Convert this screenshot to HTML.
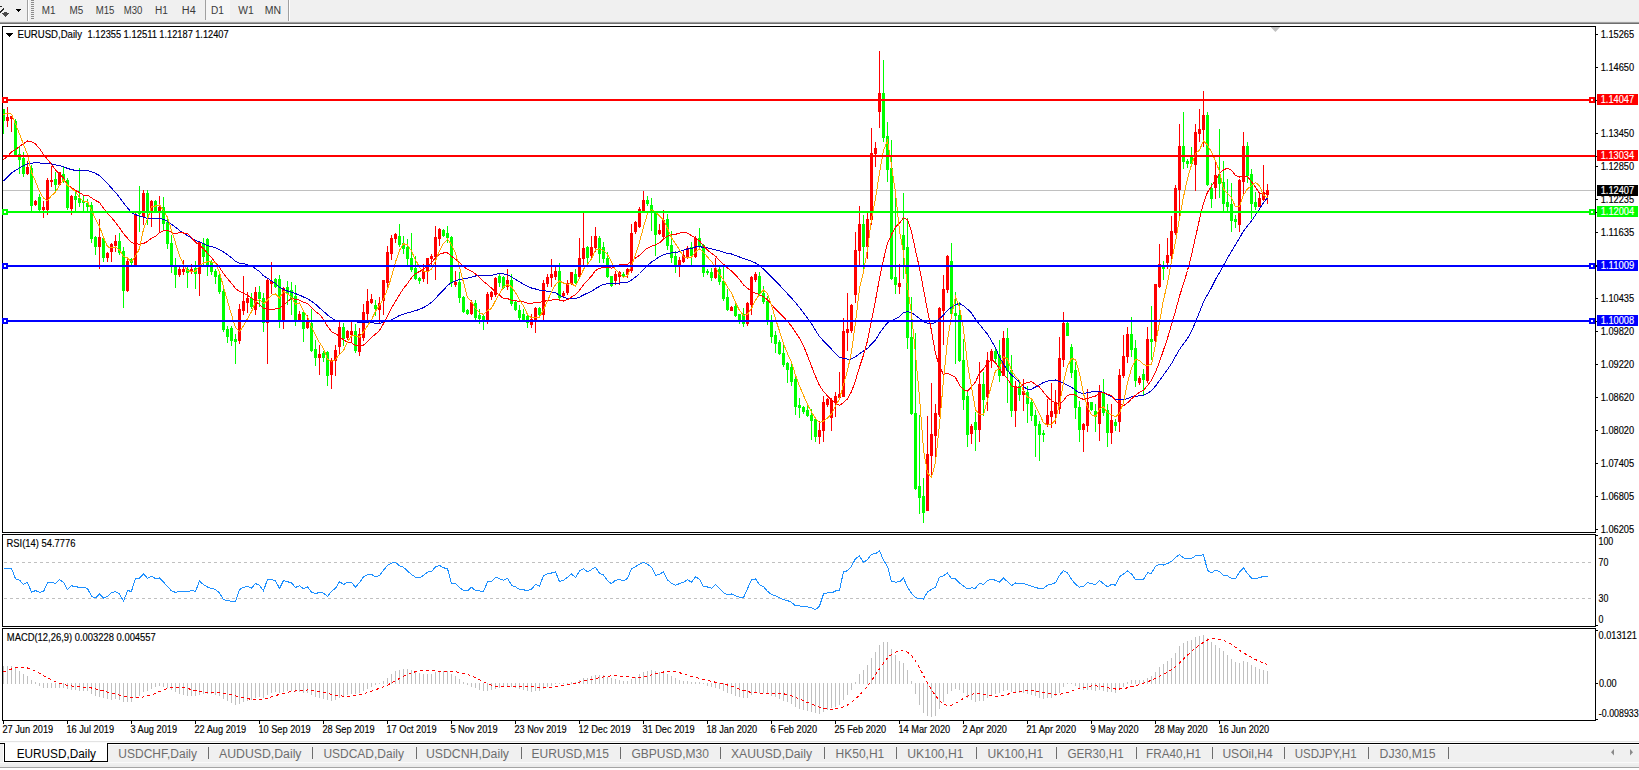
<!DOCTYPE html><html><head><meta charset="utf-8"><style>html,body{margin:0;padding:0;background:#fff}body{width:1639px;height:770px;overflow:hidden}svg{display:block}text{font-family:"Liberation Sans",Arial,sans-serif;stroke:currentColor;stroke-width:0.15px;paint-order:stroke}</style></head><body>
<svg width="1639" height="770" viewBox="0 0 1639 770" shape-rendering="crispEdges">
<rect x="0" y="0" width="1639" height="21" fill="#f0f0f0"/>
<rect x="0" y="21" width="1639" height="1" fill="#e8e8e8"/>
<rect x="0" y="22" width="1639" height="1" fill="#a0a0a0"/>
<rect x="0" y="23" width="1639" height="1" fill="#6e6e6e"/>
<rect x="27" y="0" width="1" height="21" fill="#a0a0a0"/><rect x="28" y="0" width="1" height="21" fill="#ffffff"/>
<rect x="288" y="0" width="1" height="21" fill="#a0a0a0"/><rect x="289" y="0" width="1" height="21" fill="#ffffff"/>
<g fill="#8c8c8c"><rect x="31" y="0" width="3" height="1"/><rect x="31" y="2" width="3" height="1"/><rect x="31" y="4" width="3" height="1"/><rect x="31" y="6" width="3" height="1"/><rect x="31" y="8" width="3" height="1"/><rect x="31" y="10" width="3" height="1"/><rect x="31" y="12" width="3" height="1"/><rect x="31" y="14" width="3" height="1"/><rect x="31" y="16" width="3" height="1"/><rect x="31" y="18" width="3" height="1"/></g>
<path d="M16 9h5v1h-1v1h-1v1h-1v-1h-1v-1h-1z" fill="#000"/>
<path d="M0 6h2v1h-2z M0 11h1v2h-1z M1 10h1v2h-1z M2 9h1v2h-1z M3 8h1v2h-1z" fill="#2a2a2a"/>
<path d="M4 12h3v1h2v1h-1v1h-1v1h-1v1h-1v-1h-1v-1h-1v-1h-1v-1h2z" fill="#4a4a4a"/>
<rect x="205" y="0" width="1" height="20" fill="#a0a0a0"/><rect x="206" y="0" width="24" height="20" fill="#f6f6f6"/>
<text x="41.8" y="14" font-size="10" fill="#3a3a3a" color="#3a3a3a" textLength="13.70" lengthAdjust="spacingAndGlyphs" style="stroke:none">M1</text>
<text x="69.6" y="14" font-size="10" fill="#3a3a3a" color="#3a3a3a" textLength="13.70" lengthAdjust="spacingAndGlyphs" style="stroke:none">M5</text>
<text x="95.7" y="14" font-size="10" fill="#3a3a3a" color="#3a3a3a" textLength="18.70" lengthAdjust="spacingAndGlyphs" style="stroke:none">M15</text>
<text x="123.7" y="14" font-size="10" fill="#3a3a3a" color="#3a3a3a" textLength="18.60" lengthAdjust="spacingAndGlyphs" style="stroke:none">M30</text>
<text x="154.9" y="14" font-size="10" fill="#3a3a3a" color="#3a3a3a" textLength="12.90" lengthAdjust="spacingAndGlyphs" style="stroke:none">H1</text>
<text x="181.8" y="14" font-size="10" fill="#3a3a3a" color="#3a3a3a" textLength="13.90" lengthAdjust="spacingAndGlyphs" style="stroke:none">H4</text>
<text x="211.10000000000002" y="14" font-size="10" fill="#3a3a3a" color="#3a3a3a" textLength="12.90" lengthAdjust="spacingAndGlyphs" style="stroke:none">D1</text>
<text x="238.3" y="14" font-size="10" fill="#3a3a3a" color="#3a3a3a" textLength="15.50" lengthAdjust="spacingAndGlyphs" style="stroke:none">W1</text>
<text x="264.8" y="14" font-size="10" fill="#3a3a3a" color="#3a3a3a" textLength="16.30" lengthAdjust="spacingAndGlyphs" style="stroke:none">MN</text>
<rect x="2.5" y="26.5" width="1593" height="506" fill="#fff" stroke="#000" stroke-width="1"/>
<rect x="2.5" y="534.5" width="1593" height="92" fill="#fff" stroke="#000" stroke-width="1"/>
<rect x="2.5" y="628.5" width="1593" height="92" fill="#fff" stroke="#000" stroke-width="1"/>
<rect x="1596" y="34" width="2" height="1" fill="#000"/>
<text x="1600.7" y="38" font-size="10" fill="#000" color="#000" textLength="33.50" lengthAdjust="spacingAndGlyphs">1.15265</text>
<rect x="1596" y="67" width="2" height="1" fill="#000"/>
<text x="1600.7" y="71" font-size="10" fill="#000" color="#000" textLength="33.50" lengthAdjust="spacingAndGlyphs">1.14650</text>
<rect x="1596" y="100" width="2" height="1" fill="#000"/>
<rect x="1596" y="133" width="2" height="1" fill="#000"/>
<text x="1600.7" y="137" font-size="10" fill="#000" color="#000" textLength="33.50" lengthAdjust="spacingAndGlyphs">1.13450</text>
<rect x="1596" y="166" width="2" height="1" fill="#000"/>
<text x="1600.7" y="170" font-size="10" fill="#000" color="#000" textLength="33.50" lengthAdjust="spacingAndGlyphs">1.12850</text>
<rect x="1596" y="199" width="2" height="1" fill="#000"/>
<text x="1600.7" y="203" font-size="10" fill="#000" color="#000" textLength="33.50" lengthAdjust="spacingAndGlyphs">1.12235</text>
<rect x="1596" y="232" width="2" height="1" fill="#000"/>
<text x="1600.7" y="236" font-size="10" fill="#000" color="#000" textLength="33.50" lengthAdjust="spacingAndGlyphs">1.11635</text>
<rect x="1596" y="265" width="2" height="1" fill="#000"/>
<rect x="1596" y="298" width="2" height="1" fill="#000"/>
<text x="1600.7" y="302" font-size="10" fill="#000" color="#000" textLength="33.50" lengthAdjust="spacingAndGlyphs">1.10435</text>
<rect x="1596" y="331" width="2" height="1" fill="#000"/>
<text x="1600.7" y="335" font-size="10" fill="#000" color="#000" textLength="33.50" lengthAdjust="spacingAndGlyphs">1.09820</text>
<rect x="1596" y="364" width="2" height="1" fill="#000"/>
<text x="1600.7" y="368" font-size="10" fill="#000" color="#000" textLength="33.50" lengthAdjust="spacingAndGlyphs">1.09220</text>
<rect x="1596" y="397" width="2" height="1" fill="#000"/>
<text x="1600.7" y="401" font-size="10" fill="#000" color="#000" textLength="33.50" lengthAdjust="spacingAndGlyphs">1.08620</text>
<rect x="1596" y="430" width="2" height="1" fill="#000"/>
<text x="1600.7" y="434" font-size="10" fill="#000" color="#000" textLength="33.50" lengthAdjust="spacingAndGlyphs">1.08020</text>
<rect x="1596" y="463" width="2" height="1" fill="#000"/>
<text x="1600.7" y="467" font-size="10" fill="#000" color="#000" textLength="33.50" lengthAdjust="spacingAndGlyphs">1.07405</text>
<rect x="1596" y="496" width="2" height="1" fill="#000"/>
<text x="1600.7" y="500" font-size="10" fill="#000" color="#000" textLength="33.50" lengthAdjust="spacingAndGlyphs">1.06805</text>
<rect x="1596" y="529" width="2" height="1" fill="#000"/>
<text x="1600.7" y="533" font-size="10" fill="#000" color="#000" textLength="33.50" lengthAdjust="spacingAndGlyphs">1.06205</text>
<defs><clipPath id="cm"><rect x="3" y="27" width="1592" height="505"/></clipPath><clipPath id="cr"><rect x="3" y="535" width="1592" height="91"/></clipPath><clipPath id="cd"><rect x="3" y="629" width="1592" height="91"/></clipPath></defs>
<g clip-path="url(#cm)">
<rect x="3" y="190" width="1592" height="1" fill="#c0c0c0"/>
<path d="M1270.6 27h9.6l-4.8 5z" fill="#c0c0c0" shape-rendering="auto"/>
<g fill="#00ff00"><rect x="3" y="109" width="1" height="25"/><rect x="2" y="109" width="3" height="12"/><rect x="15" y="119" width="1" height="37"/><rect x="14" y="121" width="3" height="35"/><rect x="19" y="147" width="1" height="27"/><rect x="18" y="154" width="3" height="6"/><rect x="23" y="152" width="1" height="25"/><rect x="22" y="158" width="3" height="16"/><rect x="31" y="165" width="1" height="46"/><rect x="30" y="168" width="3" height="38"/><rect x="39" y="194" width="1" height="17"/><rect x="38" y="197" width="3" height="13"/><rect x="55" y="172" width="1" height="21"/><rect x="54" y="179" width="3" height="6"/><rect x="63" y="166" width="1" height="17"/><rect x="62" y="174" width="3" height="7"/><rect x="67" y="178" width="1" height="32"/><rect x="66" y="180" width="3" height="28"/><rect x="75" y="190" width="1" height="22"/><rect x="74" y="196" width="3" height="4"/><rect x="79" y="168" width="1" height="39"/><rect x="78" y="198" width="3" height="5"/><rect x="83" y="196" width="1" height="16"/><rect x="82" y="201" width="3" height="2"/><rect x="87" y="199" width="1" height="12"/><rect x="86" y="203" width="3" height="4"/><rect x="91" y="202" width="1" height="41"/><rect x="90" y="205" width="3" height="34"/><rect x="95" y="236" width="1" height="19"/><rect x="94" y="237" width="3" height="10"/><rect x="103" y="238" width="1" height="24"/><rect x="102" y="238" width="3" height="20"/><rect x="119" y="233" width="1" height="22"/><rect x="118" y="241" width="3" height="12"/><rect x="123" y="247" width="1" height="61"/><rect x="122" y="251" width="3" height="40"/><rect x="131" y="258" width="1" height="9"/><rect x="130" y="259" width="3" height="4"/><rect x="139" y="186" width="1" height="46"/><rect x="138" y="211" width="3" height="3"/><rect x="147" y="190" width="1" height="35"/><rect x="146" y="193" width="3" height="18"/><rect x="155" y="200" width="1" height="12"/><rect x="154" y="201" width="3" height="10"/><rect x="163" y="197" width="1" height="34"/><rect x="162" y="207" width="3" height="17"/><rect x="167" y="218" width="1" height="31"/><rect x="166" y="222" width="3" height="22"/><rect x="171" y="235" width="1" height="38"/><rect x="170" y="243" width="3" height="24"/><rect x="175" y="258" width="1" height="30"/><rect x="174" y="267" width="3" height="8"/><rect x="187" y="266" width="1" height="22"/><rect x="186" y="269" width="3" height="4"/><rect x="195" y="261" width="1" height="28"/><rect x="194" y="268" width="3" height="6"/><rect x="203" y="238" width="1" height="29"/><rect x="202" y="243" width="3" height="14"/><rect x="207" y="238" width="1" height="38"/><rect x="206" y="239" width="3" height="28"/><rect x="211" y="260" width="1" height="15"/><rect x="210" y="262" width="3" height="10"/><rect x="215" y="269" width="1" height="15"/><rect x="214" y="271" width="3" height="6"/><rect x="219" y="273" width="1" height="21"/><rect x="218" y="275" width="3" height="17"/><rect x="223" y="289" width="1" height="43"/><rect x="222" y="291" width="3" height="39"/><rect x="227" y="326" width="1" height="17"/><rect x="226" y="329" width="3" height="8"/><rect x="231" y="326" width="1" height="20"/><rect x="230" y="328" width="3" height="13"/><rect x="235" y="334" width="1" height="30"/><rect x="234" y="339" width="3" height="3"/><rect x="251" y="293" width="1" height="16"/><rect x="250" y="298" width="3" height="9"/><rect x="259" y="286" width="1" height="21"/><rect x="258" y="292" width="3" height="7"/><rect x="263" y="293" width="1" height="39"/><rect x="262" y="298" width="3" height="25"/><rect x="275" y="278" width="1" height="10"/><rect x="274" y="279" width="3" height="8"/><rect x="279" y="275" width="1" height="53"/><rect x="278" y="279" width="3" height="42"/><rect x="287" y="281" width="1" height="24"/><rect x="286" y="287" width="3" height="7"/><rect x="291" y="282" width="1" height="33"/><rect x="290" y="290" width="3" height="9"/><rect x="295" y="285" width="1" height="41"/><rect x="294" y="296" width="3" height="25"/><rect x="303" y="310" width="1" height="32"/><rect x="302" y="312" width="3" height="17"/><rect x="311" y="309" width="1" height="43"/><rect x="310" y="323" width="3" height="28"/><rect x="315" y="340" width="1" height="26"/><rect x="314" y="349" width="3" height="9"/><rect x="323" y="351" width="1" height="11"/><rect x="322" y="353" width="3" height="5"/><rect x="327" y="351" width="1" height="35"/><rect x="326" y="352" width="3" height="24"/><rect x="343" y="323" width="1" height="23"/><rect x="342" y="327" width="3" height="12"/><rect x="355" y="324" width="1" height="29"/><rect x="354" y="331" width="3" height="20"/><rect x="375" y="300" width="1" height="16"/><rect x="374" y="305" width="3" height="4"/><rect x="399" y="224" width="1" height="23"/><rect x="398" y="236" width="3" height="9"/><rect x="403" y="236" width="1" height="18"/><rect x="402" y="243" width="3" height="6"/><rect x="407" y="239" width="1" height="26"/><rect x="406" y="247" width="3" height="12"/><rect x="411" y="233" width="1" height="39"/><rect x="410" y="258" width="3" height="12"/><rect x="415" y="256" width="1" height="24"/><rect x="414" y="268" width="3" height="11"/><rect x="419" y="277" width="1" height="7"/><rect x="418" y="278" width="3" height="3"/><rect x="443" y="229" width="1" height="8"/><rect x="442" y="230" width="3" height="6"/><rect x="447" y="226" width="1" height="17"/><rect x="446" y="233" width="3" height="5"/><rect x="451" y="236" width="1" height="51"/><rect x="450" y="237" width="3" height="46"/><rect x="459" y="272" width="1" height="31"/><rect x="458" y="282" width="3" height="16"/><rect x="463" y="296" width="1" height="17"/><rect x="462" y="297" width="3" height="15"/><rect x="467" y="309" width="1" height="6"/><rect x="466" y="310" width="3" height="4"/><rect x="475" y="300" width="1" height="20"/><rect x="474" y="303" width="3" height="15"/><rect x="479" y="309" width="1" height="15"/><rect x="478" y="315" width="3" height="4"/><rect x="483" y="315" width="1" height="15"/><rect x="482" y="316" width="3" height="5"/><rect x="499" y="274" width="1" height="13"/><rect x="498" y="276" width="3" height="7"/><rect x="503" y="276" width="1" height="13"/><rect x="502" y="277" width="3" height="11"/><rect x="511" y="274" width="1" height="32"/><rect x="510" y="280" width="3" height="24"/><rect x="515" y="300" width="1" height="11"/><rect x="514" y="302" width="3" height="8"/><rect x="519" y="305" width="1" height="15"/><rect x="518" y="310" width="3" height="8"/><rect x="523" y="309" width="1" height="12"/><rect x="522" y="314" width="3" height="6"/><rect x="527" y="314" width="1" height="14"/><rect x="526" y="316" width="3" height="7"/><rect x="539" y="307" width="1" height="9"/><rect x="538" y="308" width="3" height="7"/><rect x="559" y="263" width="1" height="38"/><rect x="558" y="271" width="3" height="27"/><rect x="575" y="269" width="1" height="15"/><rect x="574" y="274" width="3" height="9"/><rect x="587" y="246" width="1" height="18"/><rect x="586" y="247" width="3" height="11"/><rect x="599" y="236" width="1" height="27"/><rect x="598" y="238" width="3" height="16"/><rect x="603" y="242" width="1" height="21"/><rect x="602" y="247" width="3" height="12"/><rect x="607" y="252" width="1" height="26"/><rect x="606" y="258" width="3" height="19"/><rect x="611" y="276" width="1" height="11"/><rect x="610" y="276" width="3" height="10"/><rect x="623" y="272" width="1" height="6"/><rect x="622" y="274" width="3" height="3"/><rect x="647" y="196" width="1" height="10"/><rect x="646" y="200" width="3" height="4"/><rect x="651" y="198" width="1" height="33"/><rect x="650" y="205" width="3" height="7"/><rect x="655" y="211" width="1" height="45"/><rect x="654" y="213" width="3" height="22"/><rect x="667" y="214" width="1" height="36"/><rect x="666" y="219" width="3" height="27"/><rect x="671" y="231" width="1" height="32"/><rect x="670" y="245" width="3" height="13"/><rect x="675" y="251" width="1" height="22"/><rect x="674" y="256" width="3" height="10"/><rect x="691" y="242" width="1" height="24"/><rect x="690" y="247" width="3" height="9"/><rect x="699" y="228" width="1" height="20"/><rect x="698" y="238" width="3" height="8"/><rect x="703" y="244" width="1" height="33"/><rect x="702" y="245" width="3" height="28"/><rect x="707" y="269" width="1" height="6"/><rect x="706" y="271" width="3" height="2"/><rect x="711" y="268" width="1" height="13"/><rect x="710" y="272" width="3" height="6"/><rect x="719" y="266" width="1" height="19"/><rect x="718" y="269" width="3" height="13"/><rect x="723" y="264" width="1" height="37"/><rect x="722" y="281" width="3" height="18"/><rect x="727" y="289" width="1" height="22"/><rect x="726" y="297" width="3" height="13"/><rect x="735" y="303" width="1" height="14"/><rect x="734" y="306" width="3" height="10"/><rect x="739" y="314" width="1" height="10"/><rect x="738" y="314" width="3" height="8"/><rect x="743" y="308" width="1" height="19"/><rect x="742" y="314" width="3" height="10"/><rect x="759" y="272" width="1" height="24"/><rect x="758" y="276" width="3" height="18"/><rect x="763" y="286" width="1" height="18"/><rect x="762" y="293" width="3" height="9"/><rect x="767" y="296" width="1" height="29"/><rect x="766" y="301" width="3" height="20"/><rect x="771" y="315" width="1" height="28"/><rect x="770" y="321" width="3" height="16"/><rect x="775" y="331" width="1" height="22"/><rect x="774" y="335" width="3" height="9"/><rect x="779" y="340" width="1" height="15"/><rect x="778" y="342" width="3" height="12"/><rect x="783" y="345" width="1" height="22"/><rect x="782" y="353" width="3" height="12"/><rect x="787" y="362" width="1" height="21"/><rect x="786" y="363" width="3" height="7"/><rect x="791" y="362" width="1" height="24"/><rect x="790" y="367" width="3" height="15"/><rect x="795" y="377" width="1" height="38"/><rect x="794" y="379" width="3" height="28"/><rect x="799" y="398" width="1" height="20"/><rect x="798" y="405" width="3" height="3"/><rect x="803" y="406" width="1" height="8"/><rect x="802" y="407" width="3" height="5"/><rect x="807" y="405" width="1" height="12"/><rect x="806" y="410" width="3" height="6"/><rect x="811" y="409" width="1" height="31"/><rect x="810" y="415" width="3" height="6"/><rect x="815" y="418" width="1" height="24"/><rect x="814" y="419" width="3" height="18"/><rect x="863" y="215" width="1" height="55"/><rect x="862" y="224" width="3" height="23"/><rect x="883" y="60" width="1" height="82"/><rect x="882" y="93" width="3" height="45"/><rect x="887" y="122" width="1" height="60"/><rect x="886" y="136" width="3" height="34"/><rect x="891" y="140" width="1" height="140"/><rect x="890" y="168" width="3" height="111"/><rect x="895" y="198" width="1" height="96"/><rect x="894" y="277" width="3" height="8"/><rect x="903" y="193" width="1" height="86"/><rect x="902" y="235" width="3" height="15"/><rect x="907" y="218" width="1" height="131"/><rect x="906" y="247" width="3" height="91"/><rect x="911" y="297" width="1" height="118"/><rect x="910" y="337" width="3" height="77"/><rect x="915" y="333" width="1" height="157"/><rect x="914" y="413" width="3" height="76"/><rect x="919" y="415" width="1" height="99"/><rect x="918" y="486" width="3" height="12"/><rect x="923" y="478" width="1" height="45"/><rect x="922" y="496" width="3" height="17"/><rect x="951" y="243" width="1" height="72"/><rect x="950" y="261" width="3" height="53"/><rect x="955" y="292" width="1" height="72"/><rect x="954" y="313" width="3" height="3"/><rect x="959" y="302" width="1" height="60"/><rect x="958" y="315" width="3" height="46"/><rect x="963" y="339" width="1" height="71"/><rect x="962" y="360" width="3" height="40"/><rect x="967" y="392" width="1" height="55"/><rect x="966" y="396" width="3" height="39"/><rect x="975" y="412" width="1" height="39"/><rect x="974" y="422" width="3" height="8"/><rect x="983" y="372" width="1" height="44"/><rect x="982" y="384" width="3" height="16"/><rect x="995" y="347" width="1" height="15"/><rect x="994" y="351" width="3" height="8"/><rect x="999" y="340" width="1" height="42"/><rect x="998" y="355" width="3" height="21"/><rect x="1007" y="328" width="1" height="75"/><rect x="1006" y="338" width="3" height="33"/><rect x="1011" y="355" width="1" height="62"/><rect x="1010" y="370" width="3" height="41"/><rect x="1019" y="380" width="1" height="21"/><rect x="1018" y="386" width="3" height="9"/><rect x="1027" y="386" width="1" height="37"/><rect x="1026" y="392" width="3" height="12"/><rect x="1031" y="398" width="1" height="23"/><rect x="1030" y="402" width="3" height="14"/><rect x="1035" y="410" width="1" height="47"/><rect x="1034" y="415" width="3" height="11"/><rect x="1039" y="421" width="1" height="40"/><rect x="1038" y="424" width="3" height="11"/><rect x="1043" y="430" width="1" height="12"/><rect x="1042" y="433" width="3" height="2"/><rect x="1067" y="322" width="1" height="14"/><rect x="1066" y="323" width="3" height="13"/><rect x="1071" y="344" width="1" height="34"/><rect x="1070" y="347" width="3" height="26"/><rect x="1075" y="362" width="1" height="57"/><rect x="1074" y="370" width="3" height="38"/><rect x="1079" y="401" width="1" height="41"/><rect x="1078" y="407" width="3" height="23"/><rect x="1091" y="402" width="1" height="9"/><rect x="1090" y="402" width="3" height="8"/><rect x="1095" y="404" width="1" height="28"/><rect x="1094" y="411" width="3" height="6"/><rect x="1103" y="379" width="1" height="37"/><rect x="1102" y="392" width="3" height="21"/><rect x="1107" y="404" width="1" height="43"/><rect x="1106" y="410" width="3" height="23"/><rect x="1115" y="419" width="1" height="12"/><rect x="1114" y="422" width="3" height="4"/><rect x="1131" y="317" width="1" height="40"/><rect x="1130" y="334" width="3" height="16"/><rect x="1135" y="340" width="1" height="47"/><rect x="1134" y="348" width="3" height="33"/><rect x="1143" y="369" width="1" height="26"/><rect x="1142" y="374" width="3" height="6"/><rect x="1151" y="306" width="1" height="54"/><rect x="1150" y="339" width="3" height="3"/><rect x="1163" y="261" width="1" height="19"/><rect x="1162" y="266" width="3" height="3"/><rect x="1183" y="112" width="1" height="57"/><rect x="1182" y="146" width="3" height="16"/><rect x="1187" y="159" width="1" height="9"/><rect x="1186" y="161" width="3" height="3"/><rect x="1191" y="147" width="1" height="18"/><rect x="1190" y="157" width="3" height="7"/><rect x="1207" y="112" width="1" height="74"/><rect x="1206" y="115" width="3" height="70"/><rect x="1211" y="183" width="1" height="25"/><rect x="1210" y="188" width="3" height="11"/><rect x="1219" y="129" width="1" height="69"/><rect x="1218" y="174" width="3" height="10"/><rect x="1223" y="161" width="1" height="50"/><rect x="1222" y="182" width="3" height="22"/><rect x="1227" y="179" width="1" height="32"/><rect x="1226" y="202" width="3" height="5"/><rect x="1231" y="183" width="1" height="49"/><rect x="1230" y="204" width="3" height="17"/><rect x="1235" y="215" width="1" height="13"/><rect x="1234" y="219" width="3" height="3"/><rect x="1247" y="142" width="1" height="41"/><rect x="1246" y="146" width="3" height="30"/><rect x="1251" y="169" width="1" height="50"/><rect x="1250" y="174" width="3" height="30"/><rect x="1255" y="192" width="1" height="18"/><rect x="1254" y="202" width="3" height="5"/></g>
<g fill="#ff0000"><rect x="7" y="107" width="1" height="20"/><rect x="6" y="117" width="3" height="4"/><rect x="11" y="116" width="1" height="16"/><rect x="10" y="116" width="3" height="3"/><rect x="27" y="161" width="1" height="14"/><rect x="26" y="167" width="3" height="7"/><rect x="35" y="200" width="1" height="6"/><rect x="34" y="201" width="3" height="4"/><rect x="43" y="201" width="1" height="17"/><rect x="42" y="207" width="3" height="3"/><rect x="47" y="178" width="1" height="37"/><rect x="46" y="180" width="3" height="30"/><rect x="51" y="166" width="1" height="21"/><rect x="50" y="180" width="3" height="2"/><rect x="59" y="172" width="1" height="14"/><rect x="58" y="172" width="3" height="13"/><rect x="71" y="195" width="1" height="20"/><rect x="70" y="196" width="3" height="13"/><rect x="99" y="219" width="1" height="50"/><rect x="98" y="237" width="3" height="10"/><rect x="107" y="252" width="1" height="10"/><rect x="106" y="253" width="3" height="5"/><rect x="111" y="243" width="1" height="19"/><rect x="110" y="244" width="3" height="8"/><rect x="115" y="235" width="1" height="17"/><rect x="114" y="241" width="3" height="5"/><rect x="127" y="259" width="1" height="33"/><rect x="126" y="261" width="3" height="30"/><rect x="135" y="213" width="1" height="54"/><rect x="134" y="214" width="3" height="53"/><rect x="143" y="190" width="1" height="35"/><rect x="142" y="193" width="3" height="24"/><rect x="151" y="200" width="1" height="27"/><rect x="150" y="201" width="3" height="11"/><rect x="159" y="196" width="1" height="37"/><rect x="158" y="207" width="3" height="5"/><rect x="179" y="266" width="1" height="11"/><rect x="178" y="269" width="3" height="6"/><rect x="183" y="260" width="1" height="15"/><rect x="182" y="269" width="3" height="3"/><rect x="191" y="264" width="1" height="10"/><rect x="190" y="269" width="3" height="3"/><rect x="199" y="241" width="1" height="55"/><rect x="198" y="242" width="3" height="32"/><rect x="239" y="304" width="1" height="40"/><rect x="238" y="309" width="3" height="32"/><rect x="243" y="276" width="1" height="39"/><rect x="242" y="301" width="3" height="10"/><rect x="247" y="292" width="1" height="21"/><rect x="246" y="298" width="3" height="5"/><rect x="255" y="287" width="1" height="28"/><rect x="254" y="292" width="3" height="18"/><rect x="267" y="279" width="1" height="85"/><rect x="266" y="280" width="3" height="43"/><rect x="271" y="262" width="1" height="32"/><rect x="270" y="281" width="3" height="3"/><rect x="283" y="287" width="1" height="42"/><rect x="282" y="288" width="3" height="33"/><rect x="299" y="311" width="1" height="11"/><rect x="298" y="314" width="3" height="7"/><rect x="307" y="315" width="1" height="14"/><rect x="306" y="322" width="3" height="6"/><rect x="319" y="345" width="1" height="30"/><rect x="318" y="354" width="3" height="4"/><rect x="331" y="358" width="1" height="31"/><rect x="330" y="360" width="3" height="15"/><rect x="335" y="345" width="1" height="31"/><rect x="334" y="350" width="3" height="11"/><rect x="339" y="322" width="1" height="32"/><rect x="338" y="327" width="3" height="20"/><rect x="347" y="330" width="1" height="10"/><rect x="346" y="331" width="3" height="7"/><rect x="351" y="322" width="1" height="20"/><rect x="350" y="331" width="3" height="4"/><rect x="359" y="328" width="1" height="28"/><rect x="358" y="334" width="3" height="18"/><rect x="363" y="304" width="1" height="37"/><rect x="362" y="312" width="3" height="26"/><rect x="367" y="289" width="1" height="31"/><rect x="366" y="301" width="3" height="13"/><rect x="371" y="294" width="1" height="10"/><rect x="370" y="299" width="3" height="4"/><rect x="379" y="297" width="1" height="27"/><rect x="378" y="303" width="3" height="7"/><rect x="383" y="280" width="1" height="35"/><rect x="382" y="280" width="3" height="21"/><rect x="387" y="246" width="1" height="42"/><rect x="386" y="252" width="3" height="31"/><rect x="391" y="235" width="1" height="25"/><rect x="390" y="238" width="3" height="16"/><rect x="395" y="233" width="1" height="10"/><rect x="394" y="234" width="3" height="5"/><rect x="423" y="264" width="1" height="18"/><rect x="422" y="271" width="3" height="8"/><rect x="427" y="258" width="1" height="26"/><rect x="426" y="258" width="3" height="13"/><rect x="431" y="254" width="1" height="11"/><rect x="430" y="256" width="3" height="3"/><rect x="435" y="226" width="1" height="54"/><rect x="434" y="237" width="3" height="20"/><rect x="439" y="228" width="1" height="18"/><rect x="438" y="229" width="3" height="10"/><rect x="455" y="271" width="1" height="16"/><rect x="454" y="282" width="3" height="3"/><rect x="471" y="300" width="1" height="15"/><rect x="470" y="302" width="3" height="12"/><rect x="487" y="292" width="1" height="32"/><rect x="486" y="294" width="3" height="28"/><rect x="491" y="291" width="1" height="9"/><rect x="490" y="292" width="3" height="5"/><rect x="495" y="277" width="1" height="20"/><rect x="494" y="278" width="3" height="17"/><rect x="507" y="269" width="1" height="21"/><rect x="506" y="280" width="3" height="7"/><rect x="531" y="314" width="1" height="14"/><rect x="530" y="319" width="3" height="6"/><rect x="535" y="307" width="1" height="26"/><rect x="534" y="308" width="3" height="13"/><rect x="543" y="280" width="1" height="40"/><rect x="542" y="283" width="3" height="32"/><rect x="547" y="274" width="1" height="13"/><rect x="546" y="277" width="3" height="7"/><rect x="551" y="259" width="1" height="28"/><rect x="550" y="274" width="3" height="4"/><rect x="555" y="266" width="1" height="14"/><rect x="554" y="271" width="3" height="6"/><rect x="563" y="291" width="1" height="7"/><rect x="562" y="293" width="3" height="3"/><rect x="567" y="280" width="1" height="15"/><rect x="566" y="283" width="3" height="10"/><rect x="571" y="272" width="1" height="13"/><rect x="570" y="272" width="3" height="12"/><rect x="579" y="238" width="1" height="40"/><rect x="578" y="258" width="3" height="19"/><rect x="583" y="213" width="1" height="52"/><rect x="582" y="248" width="3" height="11"/><rect x="591" y="236" width="1" height="23"/><rect x="590" y="247" width="3" height="9"/><rect x="595" y="227" width="1" height="25"/><rect x="594" y="236" width="3" height="12"/><rect x="615" y="271" width="1" height="14"/><rect x="614" y="274" width="3" height="7"/><rect x="619" y="271" width="1" height="14"/><rect x="618" y="272" width="3" height="5"/><rect x="627" y="268" width="1" height="10"/><rect x="626" y="269" width="3" height="6"/><rect x="631" y="224" width="1" height="49"/><rect x="630" y="233" width="3" height="38"/><rect x="635" y="221" width="1" height="13"/><rect x="634" y="222" width="3" height="10"/><rect x="639" y="207" width="1" height="21"/><rect x="638" y="209" width="3" height="18"/><rect x="643" y="191" width="1" height="22"/><rect x="642" y="200" width="3" height="11"/><rect x="659" y="224" width="1" height="11"/><rect x="658" y="230" width="3" height="4"/><rect x="663" y="210" width="1" height="29"/><rect x="662" y="220" width="3" height="17"/><rect x="679" y="257" width="1" height="20"/><rect x="678" y="260" width="3" height="7"/><rect x="683" y="251" width="1" height="12"/><rect x="682" y="255" width="3" height="7"/><rect x="687" y="246" width="1" height="13"/><rect x="686" y="248" width="3" height="10"/><rect x="695" y="236" width="1" height="22"/><rect x="694" y="238" width="3" height="19"/><rect x="715" y="258" width="1" height="21"/><rect x="714" y="268" width="3" height="10"/><rect x="731" y="306" width="1" height="5"/><rect x="730" y="307" width="3" height="4"/><rect x="747" y="302" width="1" height="24"/><rect x="746" y="303" width="3" height="21"/><rect x="751" y="276" width="1" height="39"/><rect x="750" y="277" width="3" height="28"/><rect x="755" y="272" width="1" height="10"/><rect x="754" y="274" width="3" height="6"/><rect x="819" y="421" width="1" height="23"/><rect x="818" y="430" width="3" height="7"/><rect x="823" y="396" width="1" height="46"/><rect x="822" y="402" width="3" height="29"/><rect x="827" y="398" width="1" height="9"/><rect x="826" y="399" width="3" height="6"/><rect x="831" y="398" width="1" height="33"/><rect x="830" y="400" width="3" height="18"/><rect x="835" y="392" width="1" height="25"/><rect x="834" y="396" width="3" height="7"/><rect x="839" y="372" width="1" height="27"/><rect x="838" y="394" width="3" height="4"/><rect x="843" y="318" width="1" height="79"/><rect x="842" y="331" width="3" height="66"/><rect x="847" y="293" width="1" height="58"/><rect x="846" y="329" width="3" height="4"/><rect x="851" y="304" width="1" height="29"/><rect x="850" y="305" width="3" height="26"/><rect x="855" y="232" width="1" height="71"/><rect x="854" y="250" width="3" height="45"/><rect x="859" y="206" width="1" height="61"/><rect x="858" y="224" width="3" height="27"/><rect x="867" y="213" width="1" height="46"/><rect x="866" y="219" width="3" height="28"/><rect x="871" y="128" width="1" height="97"/><rect x="870" y="153" width="3" height="67"/><rect x="875" y="142" width="1" height="25"/><rect x="874" y="148" width="3" height="6"/><rect x="879" y="51" width="1" height="77"/><rect x="878" y="93" width="3" height="19"/><rect x="899" y="264" width="1" height="30"/><rect x="898" y="283" width="3" height="4"/><rect x="927" y="416" width="1" height="95"/><rect x="926" y="454" width="3" height="57"/><rect x="931" y="383" width="1" height="93"/><rect x="930" y="434" width="3" height="22"/><rect x="935" y="404" width="1" height="54"/><rect x="934" y="413" width="3" height="23"/><rect x="939" y="307" width="1" height="110"/><rect x="938" y="308" width="3" height="107"/><rect x="943" y="275" width="1" height="70"/><rect x="942" y="289" width="3" height="22"/><rect x="947" y="255" width="1" height="38"/><rect x="946" y="256" width="3" height="34"/><rect x="971" y="424" width="1" height="20"/><rect x="970" y="426" width="3" height="8"/><rect x="979" y="362" width="1" height="80"/><rect x="978" y="384" width="3" height="46"/><rect x="987" y="352" width="1" height="59"/><rect x="986" y="360" width="3" height="37"/><rect x="991" y="349" width="1" height="19"/><rect x="990" y="351" width="3" height="10"/><rect x="1003" y="331" width="1" height="45"/><rect x="1002" y="338" width="3" height="38"/><rect x="1015" y="381" width="1" height="46"/><rect x="1014" y="386" width="3" height="25"/><rect x="1023" y="379" width="1" height="32"/><rect x="1022" y="391" width="3" height="4"/><rect x="1047" y="399" width="1" height="28"/><rect x="1046" y="415" width="3" height="9"/><rect x="1051" y="383" width="1" height="45"/><rect x="1050" y="411" width="3" height="6"/><rect x="1055" y="390" width="1" height="34"/><rect x="1054" y="402" width="3" height="12"/><rect x="1059" y="337" width="1" height="77"/><rect x="1058" y="358" width="3" height="51"/><rect x="1063" y="312" width="1" height="55"/><rect x="1062" y="323" width="3" height="37"/><rect x="1083" y="423" width="1" height="29"/><rect x="1082" y="424" width="3" height="6"/><rect x="1087" y="389" width="1" height="43"/><rect x="1086" y="402" width="3" height="24"/><rect x="1099" y="385" width="1" height="56"/><rect x="1098" y="392" width="3" height="32"/><rect x="1111" y="404" width="1" height="40"/><rect x="1110" y="420" width="3" height="13"/><rect x="1119" y="369" width="1" height="63"/><rect x="1118" y="375" width="3" height="47"/><rect x="1123" y="335" width="1" height="43"/><rect x="1122" y="356" width="3" height="20"/><rect x="1127" y="327" width="1" height="36"/><rect x="1126" y="334" width="3" height="23"/><rect x="1139" y="376" width="1" height="9"/><rect x="1138" y="378" width="3" height="5"/><rect x="1147" y="327" width="1" height="56"/><rect x="1146" y="339" width="3" height="42"/><rect x="1155" y="284" width="1" height="58"/><rect x="1154" y="284" width="3" height="57"/><rect x="1159" y="244" width="1" height="44"/><rect x="1158" y="264" width="3" height="23"/><rect x="1167" y="238" width="1" height="31"/><rect x="1166" y="255" width="3" height="8"/><rect x="1171" y="216" width="1" height="43"/><rect x="1170" y="231" width="3" height="25"/><rect x="1175" y="185" width="1" height="50"/><rect x="1174" y="188" width="3" height="45"/><rect x="1179" y="124" width="1" height="93"/><rect x="1178" y="146" width="3" height="44"/><rect x="1195" y="124" width="1" height="67"/><rect x="1194" y="132" width="3" height="33"/><rect x="1199" y="109" width="1" height="33"/><rect x="1198" y="129" width="3" height="5"/><rect x="1203" y="91" width="1" height="56"/><rect x="1202" y="115" width="3" height="15"/><rect x="1215" y="160" width="1" height="39"/><rect x="1214" y="175" width="3" height="13"/><rect x="1239" y="179" width="1" height="53"/><rect x="1238" y="180" width="3" height="45"/><rect x="1243" y="132" width="1" height="62"/><rect x="1242" y="146" width="3" height="36"/><rect x="1259" y="192" width="1" height="15"/><rect x="1258" y="198" width="3" height="9"/><rect x="1263" y="165" width="1" height="36"/><rect x="1262" y="192" width="3" height="8"/><rect x="1267" y="184" width="1" height="20"/><rect x="1266" y="190" width="3" height="5"/></g>
<polyline points="3.5,181.0 7.5,177.0 11.5,173.1 15.5,170.4 19.5,167.9 23.5,165.9 27.5,163.8 31.5,163.2 35.5,162.7 39.5,162.9 43.5,163.5 47.5,163.5 51.5,164.0 55.5,164.9 59.5,165.7 63.5,166.7 67.5,168.4 71.5,169.6 75.5,170.4 79.5,170.7 83.5,170.7 87.5,170.6 91.5,171.6 95.5,173.4 99.5,175.6 103.5,179.3 107.5,183.6 111.5,188.1 115.5,192.5 119.5,197.3 123.5,203.0 127.5,207.8 131.5,212.7 135.5,214.6 139.5,216.4 143.5,217.1 147.5,218.5 151.5,218.4 155.5,218.7 159.5,218.7 163.5,219.2 167.5,221.3 171.5,224.2 175.5,227.2 179.5,230.4 183.5,233.4 187.5,235.5 191.5,238.0 195.5,240.5 199.5,241.8 203.5,243.6 207.5,245.6 211.5,246.7 215.5,247.7 219.5,249.5 223.5,251.9 227.5,254.6 231.5,257.8 235.5,261.2 239.5,263.1 243.5,263.4 247.5,264.7 251.5,266.2 255.5,268.7 259.5,271.6 263.5,275.9 267.5,278.2 271.5,280.9 275.5,283.4 279.5,287.2 283.5,289.3 287.5,291.0 291.5,292.1 295.5,293.6 299.5,295.1 303.5,297.0 307.5,298.7 311.5,301.4 315.5,304.2 319.5,307.9 323.5,311.3 327.5,314.9 331.5,317.9 335.5,320.3 339.5,321.5 343.5,321.9 347.5,321.7 351.5,321.4 355.5,321.7 359.5,322.5 363.5,322.8 367.5,322.9 371.5,322.7 375.5,323.2 379.5,323.4 383.5,322.0 387.5,321.1 391.5,319.7 395.5,317.9 399.5,315.4 403.5,314.1 407.5,312.9 411.5,312.0 415.5,310.6 419.5,309.4 423.5,307.5 427.5,305.4 431.5,302.3 435.5,298.3 439.5,294.1 443.5,290.1 447.5,285.4 451.5,282.8 455.5,280.6 459.5,279.6 463.5,278.7 467.5,278.1 471.5,277.1 475.5,276.0 479.5,275.5 483.5,275.8 487.5,275.5 491.5,275.3 495.5,274.3 499.5,273.6 503.5,273.8 507.5,274.7 511.5,276.9 515.5,279.4 519.5,281.8 523.5,284.2 527.5,286.3 531.5,288.0 535.5,289.0 539.5,290.1 543.5,290.6 547.5,291.2 551.5,291.8 555.5,292.9 559.5,295.2 563.5,297.1 567.5,298.7 571.5,298.4 575.5,298.4 579.5,297.1 583.5,295.0 587.5,293.1 591.5,291.3 595.5,288.6 599.5,286.4 603.5,284.4 607.5,283.8 611.5,283.5 615.5,283.4 619.5,283.1 623.5,282.7 627.5,282.4 631.5,280.0 635.5,277.1 639.5,273.5 643.5,269.5 647.5,265.6 651.5,262.0 655.5,259.5 659.5,256.7 663.5,254.6 667.5,253.5 671.5,252.9 675.5,252.7 679.5,251.5 683.5,250.2 687.5,249.0 691.5,248.5 695.5,247.0 699.5,246.6 703.5,247.4 707.5,247.9 711.5,248.9 715.5,249.9 719.5,250.9 723.5,252.2 727.5,253.3 731.5,254.0 735.5,255.4 739.5,257.0 743.5,258.6 747.5,259.7 751.5,261.2 755.5,262.9 759.5,265.7 763.5,269.1 767.5,273.0 771.5,277.1 775.5,280.8 779.5,284.9 783.5,289.7 787.5,293.8 791.5,297.9 795.5,302.7 799.5,307.6 803.5,312.8 807.5,318.3 811.5,323.8 815.5,330.4 819.5,336.6 823.5,340.9 827.5,345.1 831.5,349.2 835.5,353.5 839.5,357.3 843.5,358.4 847.5,359.1 851.5,359.0 855.5,356.9 859.5,353.6 863.5,351.1 867.5,348.3 871.5,344.1 875.5,340.0 879.5,333.3 883.5,327.8 887.5,322.8 891.5,320.8 895.5,318.9 899.5,316.6 903.5,312.7 907.5,311.7 911.5,312.7 915.5,315.5 919.5,318.4 923.5,321.8 927.5,323.1 931.5,323.6 935.5,322.8 939.5,318.7 943.5,315.0 947.5,310.2 951.5,307.3 955.5,304.6 959.5,303.4 963.5,305.7 967.5,309.2 971.5,313.2 975.5,319.1 979.5,324.4 983.5,329.5 987.5,334.2 991.5,340.8 995.5,347.8 999.5,357.2 1003.5,363.9 1007.5,370.6 1011.5,375.0 1015.5,378.4 1019.5,382.1 1023.5,386.9 1027.5,389.1 1031.5,389.1 1035.5,387.0 1039.5,384.9 1043.5,382.4 1047.5,381.1 1051.5,380.3 1055.5,380.0 1059.5,381.6 1063.5,382.8 1067.5,385.4 1071.5,387.3 1075.5,390.4 1079.5,392.7 1083.5,393.6 1087.5,392.5 1091.5,392.0 1095.5,391.5 1099.5,391.8 1103.5,392.2 1107.5,394.6 1111.5,396.9 1115.5,399.2 1119.5,399.2 1123.5,399.8 1127.5,398.6 1131.5,396.6 1135.5,396.4 1139.5,395.8 1143.5,395.4 1147.5,393.3 1151.5,390.8 1155.5,386.1 1159.5,380.5 1163.5,375.0 1167.5,369.6 1171.5,363.6 1175.5,356.5 1179.5,349.4 1183.5,344.0 1187.5,338.3 1191.5,331.3 1195.5,322.2 1199.5,312.2 1203.5,301.9 1207.5,294.6 1211.5,287.6 1215.5,279.5 1219.5,272.6 1223.5,265.6 1227.5,258.1 1231.5,251.4 1235.5,244.6 1239.5,238.1 1243.5,231.0 1247.5,225.8 1251.5,220.9 1255.5,215.1 1259.5,209.0 1263.5,202.8 1267.5,197.8" fill="none" stroke="#0000cd" stroke-width="1" />
<polyline points="3.5,159.5 7.5,156.3 11.5,152.1 15.5,149.6 19.5,146.4 23.5,143.8 27.5,141.0 31.5,141.8 35.5,144.0 39.5,148.5 43.5,154.4 47.5,159.3 51.5,164.6 55.5,169.9 59.5,173.7 63.5,178.2 67.5,184.7 71.5,187.6 75.5,190.5 79.5,192.5 83.5,195.1 87.5,195.1 91.5,197.8 95.5,200.4 99.5,202.6 103.5,208.1 107.5,213.3 111.5,217.6 115.5,222.5 119.5,227.7 123.5,233.6 127.5,238.2 131.5,242.7 135.5,243.6 139.5,244.3 143.5,243.5 147.5,241.5 151.5,238.2 155.5,236.3 159.5,232.8 163.5,230.6 167.5,230.5 171.5,232.3 175.5,233.9 179.5,232.4 183.5,233.0 187.5,233.7 191.5,237.7 195.5,242.0 199.5,245.4 203.5,248.7 207.5,253.3 211.5,257.7 215.5,262.6 219.5,267.5 223.5,273.6 227.5,278.6 231.5,283.3 235.5,288.5 239.5,291.3 243.5,293.4 247.5,295.4 251.5,297.8 255.5,301.4 259.5,304.4 263.5,308.4 267.5,309.0 271.5,309.4 275.5,309.0 279.5,308.4 283.5,305.0 287.5,301.6 291.5,298.5 295.5,299.3 299.5,300.2 303.5,302.3 307.5,303.4 311.5,307.6 315.5,311.8 319.5,314.1 323.5,319.5 327.5,326.3 331.5,331.6 335.5,333.7 339.5,336.5 343.5,339.8 347.5,342.1 351.5,342.8 355.5,345.4 359.5,345.8 363.5,345.1 367.5,341.6 371.5,337.5 375.5,334.2 379.5,330.4 383.5,323.6 387.5,315.9 391.5,307.9 395.5,301.3 399.5,294.6 403.5,288.6 407.5,283.5 411.5,277.7 415.5,273.7 419.5,271.5 423.5,269.3 427.5,266.4 431.5,262.6 435.5,257.9 439.5,254.3 443.5,253.0 447.5,252.9 451.5,256.3 455.5,259.1 459.5,262.6 463.5,266.4 467.5,269.5 471.5,271.2 475.5,273.9 479.5,277.2 483.5,281.6 487.5,284.3 491.5,288.2 495.5,291.7 499.5,295.1 503.5,298.7 507.5,298.6 511.5,300.1 515.5,300.9 519.5,301.3 523.5,301.8 527.5,303.2 531.5,303.3 535.5,302.6 539.5,302.2 543.5,301.5 547.5,300.5 551.5,300.2 555.5,299.4 559.5,300.1 563.5,301.0 567.5,299.6 571.5,297.0 575.5,294.5 579.5,290.2 583.5,284.9 587.5,280.4 591.5,276.1 595.5,270.5 599.5,268.4 603.5,267.0 607.5,267.1 611.5,268.1 615.5,266.5 619.5,265.0 623.5,264.5 627.5,264.3 631.5,260.7 635.5,258.1 639.5,255.4 643.5,251.2 647.5,248.1 651.5,246.3 655.5,244.9 659.5,242.9 663.5,238.9 667.5,236.1 671.5,234.8 675.5,234.3 679.5,233.1 683.5,232.1 687.5,233.2 691.5,235.6 695.5,237.7 699.5,241.0 703.5,245.8 707.5,250.2 711.5,253.3 715.5,256.1 719.5,260.4 723.5,264.2 727.5,267.9 731.5,270.9 735.5,274.9 739.5,279.6 743.5,284.9 747.5,288.3 751.5,291.1 755.5,293.1 759.5,294.7 763.5,296.7 767.5,299.8 771.5,304.6 775.5,309.0 779.5,312.9 783.5,316.9 787.5,321.4 791.5,326.1 795.5,332.1 799.5,338.1 803.5,345.9 807.5,355.7 811.5,366.1 815.5,376.4 819.5,385.6 823.5,391.4 827.5,396.0 831.5,400.1 835.5,403.1 839.5,405.3 843.5,402.6 847.5,398.9 851.5,391.7 855.5,380.5 859.5,367.1 863.5,355.1 867.5,340.8 871.5,320.5 875.5,300.4 879.5,278.3 883.5,259.6 887.5,243.0 891.5,234.6 895.5,226.8 899.5,223.3 903.5,217.6 907.5,219.9 911.5,231.5 915.5,250.3 919.5,268.2 923.5,289.1 927.5,310.6 931.5,331.0 935.5,353.8 939.5,366.1 943.5,374.7 947.5,373.1 951.5,375.2 955.5,377.4 959.5,385.3 963.5,389.7 967.5,391.2 971.5,386.8 975.5,381.9 979.5,372.8 983.5,368.9 987.5,363.6 991.5,359.2 995.5,362.8 999.5,368.8 1003.5,374.7 1007.5,378.8 1011.5,385.6 1015.5,387.5 1019.5,387.2 1023.5,384.2 1027.5,382.5 1031.5,381.6 1035.5,384.5 1039.5,387.0 1043.5,392.3 1047.5,396.9 1051.5,400.7 1055.5,402.6 1059.5,404.0 1063.5,400.6 1067.5,395.3 1071.5,394.3 1075.5,395.2 1079.5,397.9 1083.5,399.4 1087.5,398.4 1091.5,397.3 1095.5,396.0 1099.5,393.0 1103.5,392.8 1107.5,394.3 1111.5,395.6 1115.5,400.3 1119.5,404.1 1123.5,405.6 1127.5,402.9 1131.5,398.8 1135.5,395.3 1139.5,392.1 1143.5,390.4 1147.5,385.4 1151.5,380.1 1155.5,372.4 1159.5,361.8 1163.5,350.1 1167.5,338.3 1171.5,324.5 1175.5,311.1 1179.5,296.1 1183.5,283.8 1187.5,270.5 1191.5,254.9 1195.5,237.3 1199.5,219.4 1203.5,203.4 1207.5,192.2 1211.5,186.1 1215.5,179.7 1219.5,173.6 1223.5,169.9 1227.5,168.1 1231.5,170.3 1235.5,175.6 1239.5,177.0 1243.5,175.8 1247.5,176.7 1251.5,181.7 1255.5,187.2 1259.5,193.1 1263.5,193.7 1267.5,193.1" fill="none" stroke="#ff0000" stroke-width="1" />
<polyline points="3.5,114.5 7.5,113.1 11.5,114.1 15.5,123.9 19.5,133.9 23.5,144.5 27.5,154.5 31.5,172.3 35.5,181.5 39.5,191.4 43.5,198.2 47.5,200.8 51.5,195.7 55.5,192.3 59.5,185.0 63.5,179.7 67.5,185.1 71.5,188.4 75.5,191.4 79.5,197.4 83.5,201.8 87.5,201.5 91.5,209.9 95.5,219.3 99.5,226.3 103.5,237.2 107.5,246.7 111.5,247.9 115.5,246.9 119.5,249.9 123.5,256.5 127.5,258.0 131.5,261.7 135.5,256.3 139.5,248.5 143.5,229.2 147.5,219.1 151.5,206.8 155.5,206.0 159.5,204.8 163.5,210.7 167.5,217.3 171.5,230.2 175.5,243.0 179.5,255.5 183.5,264.8 187.5,270.6 191.5,271.4 195.5,271.2 199.5,265.7 203.5,263.0 207.5,261.7 211.5,262.1 215.5,262.7 219.5,272.4 223.5,286.9 227.5,300.9 231.5,314.7 235.5,327.8 239.5,331.4 243.5,326.0 247.5,318.6 251.5,311.8 255.5,301.8 259.5,299.7 263.5,303.8 267.5,300.1 271.5,295.1 275.5,293.9 279.5,298.2 283.5,291.4 287.5,293.9 291.5,297.4 295.5,304.2 299.5,303.0 303.5,311.0 307.5,316.9 311.5,327.2 315.5,334.6 319.5,342.6 323.5,348.4 327.5,359.1 331.5,361.1 335.5,359.7 339.5,354.3 343.5,350.6 347.5,341.6 351.5,335.8 355.5,335.8 359.5,337.1 363.5,331.8 367.5,325.9 371.5,319.7 375.5,311.3 379.5,305.3 383.5,298.9 387.5,289.1 391.5,276.9 395.5,262.1 399.5,250.2 403.5,243.7 407.5,244.9 411.5,251.1 415.5,259.9 419.5,267.1 423.5,271.8 427.5,271.8 431.5,269.1 435.5,260.9 439.5,250.7 443.5,243.5 447.5,239.2 451.5,244.5 455.5,253.5 459.5,267.1 463.5,282.3 467.5,297.5 471.5,301.6 475.5,308.6 479.5,312.7 483.5,314.5 487.5,310.6 491.5,308.4 495.5,300.7 499.5,293.5 503.5,287.0 507.5,284.4 511.5,286.6 515.5,292.7 519.5,299.7 523.5,306.1 527.5,314.5 531.5,317.8 535.5,317.6 539.5,317.1 543.5,309.9 547.5,300.9 551.5,291.9 555.5,284.5 559.5,281.0 563.5,283.0 567.5,284.2 571.5,283.8 575.5,286.1 579.5,278.3 583.5,269.3 587.5,264.1 591.5,259.0 595.5,249.9 599.5,248.9 603.5,250.8 607.5,254.5 611.5,262.1 615.5,269.7 619.5,273.6 623.5,277.3 627.5,275.9 631.5,265.4 635.5,254.9 639.5,242.2 643.5,226.9 647.5,213.8 651.5,209.5 655.5,211.9 659.5,216.0 663.5,220.1 667.5,228.4 671.5,237.6 675.5,243.8 679.5,249.9 683.5,256.9 687.5,257.5 691.5,257.1 695.5,251.8 699.5,248.9 703.5,252.2 707.5,257.1 711.5,261.5 715.5,267.4 719.5,274.6 723.5,279.9 727.5,287.1 731.5,292.9 735.5,302.5 739.5,310.4 743.5,315.5 747.5,314.3 751.5,308.5 755.5,300.1 759.5,294.5 763.5,290.0 767.5,293.5 771.5,305.2 775.5,319.1 779.5,331.0 783.5,343.7 787.5,353.5 791.5,362.5 795.5,375.1 799.5,386.0 803.5,395.4 807.5,404.5 811.5,412.3 815.5,418.3 819.5,422.8 823.5,421.1 827.5,418.0 831.5,414.1 835.5,405.9 839.5,398.9 843.5,384.7 847.5,370.6 851.5,351.7 855.5,322.6 859.5,288.6 863.5,271.5 867.5,249.5 871.5,219.1 875.5,198.6 879.5,172.4 883.5,150.5 887.5,140.5 891.5,165.4 895.5,192.7 899.5,230.7 903.5,253.2 907.5,286.8 911.5,313.8 915.5,354.5 919.5,397.3 923.5,449.8 927.5,473.1 931.5,477.3 935.5,462.2 939.5,424.5 943.5,380.0 947.5,340.5 951.5,316.4 955.5,296.8 959.5,307.1 963.5,329.0 967.5,364.5 971.5,387.0 975.5,409.8 979.5,414.7 983.5,414.7 987.5,399.9 991.5,385.0 995.5,370.8 999.5,368.9 1003.5,356.9 1007.5,359.0 1011.5,370.8 1015.5,376.4 1019.5,380.3 1023.5,390.9 1027.5,397.4 1031.5,398.4 1035.5,406.2 1039.5,414.1 1043.5,422.7 1047.5,425.2 1051.5,424.4 1055.5,419.8 1059.5,404.6 1063.5,382.4 1067.5,366.4 1071.5,358.5 1075.5,359.5 1079.5,373.7 1083.5,393.8 1087.5,407.1 1091.5,414.6 1095.5,416.5 1099.5,409.0 1103.5,406.7 1107.5,412.8 1111.5,414.9 1115.5,416.7 1119.5,413.4 1123.5,402.3 1127.5,382.6 1131.5,368.5 1135.5,359.5 1139.5,360.2 1143.5,364.7 1147.5,365.8 1151.5,364.1 1155.5,344.8 1159.5,322.0 1163.5,299.8 1167.5,283.1 1171.5,261.1 1175.5,242.0 1179.5,218.4 1183.5,196.8 1187.5,178.4 1191.5,164.8 1195.5,153.5 1199.5,150.0 1203.5,140.8 1207.5,145.0 1211.5,152.0 1215.5,160.8 1219.5,171.6 1223.5,189.1 1227.5,193.4 1231.5,197.7 1235.5,206.9 1239.5,206.4 1243.5,195.0 1247.5,188.9 1251.5,185.5 1255.5,182.4 1259.5,185.9 1263.5,195.1 1267.5,198.1" fill="none" stroke="#ffa500" stroke-width="1" />
</g>
<rect x="3" y="99" width="1592" height="2" fill="#ff0000"/>
<rect x="2" y="97" width="6" height="6" fill="#ff0000"/><rect x="4" y="99" width="2" height="2" fill="#fff"/>
<rect x="1589" y="97" width="6" height="6" fill="#ff0000"/><rect x="1591" y="99" width="2" height="2" fill="#fff"/>
<rect x="1596" y="100" width="1" height="1" fill="#000"/>
<rect x="1597" y="94" width="41" height="11" fill="#ff0000"/>
<text x="1600.7" y="103" font-size="10" fill="#fff" color="#fff" textLength="33.50" lengthAdjust="spacingAndGlyphs">1.14047</text>
<rect x="3" y="155" width="1592" height="2" fill="#ff0000"/>
<rect x="1596" y="156" width="1" height="1" fill="#000"/>
<rect x="1597" y="150" width="41" height="11" fill="#ff0000"/>
<text x="1600.7" y="159" font-size="10" fill="#fff" color="#fff" textLength="33.50" lengthAdjust="spacingAndGlyphs">1.13034</text>
<rect x="3" y="211" width="1592" height="2" fill="#00ff00"/>
<rect x="2" y="209" width="6" height="6" fill="#00ff00"/><rect x="4" y="211" width="2" height="2" fill="#fff"/>
<rect x="1589" y="209" width="6" height="6" fill="#00ff00"/><rect x="1591" y="211" width="2" height="2" fill="#fff"/>
<rect x="1596" y="212" width="1" height="1" fill="#000"/>
<rect x="1597" y="206" width="41" height="11" fill="#00ff00"/>
<text x="1600.7" y="215" font-size="10" fill="#fff" color="#fff" textLength="33.50" lengthAdjust="spacingAndGlyphs">1.12004</text>
<rect x="3" y="265" width="1592" height="2" fill="#0000ff"/>
<rect x="2" y="263" width="6" height="6" fill="#0000ff"/><rect x="4" y="265" width="2" height="2" fill="#fff"/>
<rect x="1589" y="263" width="6" height="6" fill="#0000ff"/><rect x="1591" y="265" width="2" height="2" fill="#fff"/>
<rect x="1596" y="266" width="1" height="1" fill="#000"/>
<rect x="1597" y="260" width="41" height="11" fill="#0000ff"/>
<text x="1600.7" y="269" font-size="10" fill="#fff" color="#fff" textLength="33.50" lengthAdjust="spacingAndGlyphs">1.11009</text>
<rect x="3" y="320" width="1592" height="2" fill="#0000ff"/>
<rect x="2" y="318" width="6" height="6" fill="#0000ff"/><rect x="4" y="320" width="2" height="2" fill="#fff"/>
<rect x="1589" y="318" width="6" height="6" fill="#0000ff"/><rect x="1591" y="320" width="2" height="2" fill="#fff"/>
<rect x="1596" y="321" width="1" height="1" fill="#000"/>
<rect x="1597" y="315" width="41" height="11" fill="#0000ff"/>
<text x="1600.7" y="324" font-size="10" fill="#fff" color="#fff" textLength="33.50" lengthAdjust="spacingAndGlyphs">1.10008</text>
<rect x="1597" y="185" width="41" height="11" fill="#000"/>
<text x="1600.7" y="194" font-size="10" fill="#fff" color="#fff" textLength="33.50" lengthAdjust="spacingAndGlyphs">1.12407</text>
<path d="M6 33h7v1h-1v1h-1v1h-1v1h-1v-1h-1v-1h-1v-1h-1z" fill="#000"/>
<text x="17.5" y="38" font-size="10" fill="#000" color="#000" textLength="64.50" lengthAdjust="spacingAndGlyphs">EURUSD,Daily</text>
<text x="87.6" y="38" font-size="10" fill="#000" color="#000" textLength="33.50" lengthAdjust="spacingAndGlyphs">1.12355</text>
<text x="123.5" y="38" font-size="10" fill="#000" color="#000" textLength="33.50" lengthAdjust="spacingAndGlyphs">1.12511</text>
<text x="159.3" y="38" font-size="10" fill="#000" color="#000" textLength="33.50" lengthAdjust="spacingAndGlyphs">1.12187</text>
<text x="195.2" y="38" font-size="10" fill="#000" color="#000" textLength="33.50" lengthAdjust="spacingAndGlyphs">1.12407</text>
<g fill="#c0c0c0"><rect x="4" y="562" width="3" height="1"/><rect x="10" y="562" width="3" height="1"/><rect x="16" y="562" width="3" height="1"/><rect x="22" y="562" width="3" height="1"/><rect x="28" y="562" width="3" height="1"/><rect x="34" y="562" width="3" height="1"/><rect x="40" y="562" width="3" height="1"/><rect x="46" y="562" width="3" height="1"/><rect x="52" y="562" width="3" height="1"/><rect x="58" y="562" width="3" height="1"/><rect x="64" y="562" width="3" height="1"/><rect x="70" y="562" width="3" height="1"/><rect x="76" y="562" width="3" height="1"/><rect x="82" y="562" width="3" height="1"/><rect x="88" y="562" width="3" height="1"/><rect x="94" y="562" width="3" height="1"/><rect x="100" y="562" width="3" height="1"/><rect x="106" y="562" width="3" height="1"/><rect x="112" y="562" width="3" height="1"/><rect x="118" y="562" width="3" height="1"/><rect x="124" y="562" width="3" height="1"/><rect x="130" y="562" width="3" height="1"/><rect x="136" y="562" width="3" height="1"/><rect x="142" y="562" width="3" height="1"/><rect x="148" y="562" width="3" height="1"/><rect x="154" y="562" width="3" height="1"/><rect x="160" y="562" width="3" height="1"/><rect x="166" y="562" width="3" height="1"/><rect x="172" y="562" width="3" height="1"/><rect x="178" y="562" width="3" height="1"/><rect x="184" y="562" width="3" height="1"/><rect x="190" y="562" width="3" height="1"/><rect x="196" y="562" width="3" height="1"/><rect x="202" y="562" width="3" height="1"/><rect x="208" y="562" width="3" height="1"/><rect x="214" y="562" width="3" height="1"/><rect x="220" y="562" width="3" height="1"/><rect x="226" y="562" width="3" height="1"/><rect x="232" y="562" width="3" height="1"/><rect x="238" y="562" width="3" height="1"/><rect x="244" y="562" width="3" height="1"/><rect x="250" y="562" width="3" height="1"/><rect x="256" y="562" width="3" height="1"/><rect x="262" y="562" width="3" height="1"/><rect x="268" y="562" width="3" height="1"/><rect x="274" y="562" width="3" height="1"/><rect x="280" y="562" width="3" height="1"/><rect x="286" y="562" width="3" height="1"/><rect x="292" y="562" width="3" height="1"/><rect x="298" y="562" width="3" height="1"/><rect x="304" y="562" width="3" height="1"/><rect x="310" y="562" width="3" height="1"/><rect x="316" y="562" width="3" height="1"/><rect x="322" y="562" width="3" height="1"/><rect x="328" y="562" width="3" height="1"/><rect x="334" y="562" width="3" height="1"/><rect x="340" y="562" width="3" height="1"/><rect x="346" y="562" width="3" height="1"/><rect x="352" y="562" width="3" height="1"/><rect x="358" y="562" width="3" height="1"/><rect x="364" y="562" width="3" height="1"/><rect x="370" y="562" width="3" height="1"/><rect x="376" y="562" width="3" height="1"/><rect x="382" y="562" width="3" height="1"/><rect x="388" y="562" width="3" height="1"/><rect x="394" y="562" width="3" height="1"/><rect x="400" y="562" width="3" height="1"/><rect x="406" y="562" width="3" height="1"/><rect x="412" y="562" width="3" height="1"/><rect x="418" y="562" width="3" height="1"/><rect x="424" y="562" width="3" height="1"/><rect x="430" y="562" width="3" height="1"/><rect x="436" y="562" width="3" height="1"/><rect x="442" y="562" width="3" height="1"/><rect x="448" y="562" width="3" height="1"/><rect x="454" y="562" width="3" height="1"/><rect x="460" y="562" width="3" height="1"/><rect x="466" y="562" width="3" height="1"/><rect x="472" y="562" width="3" height="1"/><rect x="478" y="562" width="3" height="1"/><rect x="484" y="562" width="3" height="1"/><rect x="490" y="562" width="3" height="1"/><rect x="496" y="562" width="3" height="1"/><rect x="502" y="562" width="3" height="1"/><rect x="508" y="562" width="3" height="1"/><rect x="514" y="562" width="3" height="1"/><rect x="520" y="562" width="3" height="1"/><rect x="526" y="562" width="3" height="1"/><rect x="532" y="562" width="3" height="1"/><rect x="538" y="562" width="3" height="1"/><rect x="544" y="562" width="3" height="1"/><rect x="550" y="562" width="3" height="1"/><rect x="556" y="562" width="3" height="1"/><rect x="562" y="562" width="3" height="1"/><rect x="568" y="562" width="3" height="1"/><rect x="574" y="562" width="3" height="1"/><rect x="580" y="562" width="3" height="1"/><rect x="586" y="562" width="3" height="1"/><rect x="592" y="562" width="3" height="1"/><rect x="598" y="562" width="3" height="1"/><rect x="604" y="562" width="3" height="1"/><rect x="610" y="562" width="3" height="1"/><rect x="616" y="562" width="3" height="1"/><rect x="622" y="562" width="3" height="1"/><rect x="628" y="562" width="3" height="1"/><rect x="634" y="562" width="3" height="1"/><rect x="640" y="562" width="3" height="1"/><rect x="646" y="562" width="3" height="1"/><rect x="652" y="562" width="3" height="1"/><rect x="658" y="562" width="3" height="1"/><rect x="664" y="562" width="3" height="1"/><rect x="670" y="562" width="3" height="1"/><rect x="676" y="562" width="3" height="1"/><rect x="682" y="562" width="3" height="1"/><rect x="688" y="562" width="3" height="1"/><rect x="694" y="562" width="3" height="1"/><rect x="700" y="562" width="3" height="1"/><rect x="706" y="562" width="3" height="1"/><rect x="712" y="562" width="3" height="1"/><rect x="718" y="562" width="3" height="1"/><rect x="724" y="562" width="3" height="1"/><rect x="730" y="562" width="3" height="1"/><rect x="736" y="562" width="3" height="1"/><rect x="742" y="562" width="3" height="1"/><rect x="748" y="562" width="3" height="1"/><rect x="754" y="562" width="3" height="1"/><rect x="760" y="562" width="3" height="1"/><rect x="766" y="562" width="3" height="1"/><rect x="772" y="562" width="3" height="1"/><rect x="778" y="562" width="3" height="1"/><rect x="784" y="562" width="3" height="1"/><rect x="790" y="562" width="3" height="1"/><rect x="796" y="562" width="3" height="1"/><rect x="802" y="562" width="3" height="1"/><rect x="808" y="562" width="3" height="1"/><rect x="814" y="562" width="3" height="1"/><rect x="820" y="562" width="3" height="1"/><rect x="826" y="562" width="3" height="1"/><rect x="832" y="562" width="3" height="1"/><rect x="838" y="562" width="3" height="1"/><rect x="844" y="562" width="3" height="1"/><rect x="850" y="562" width="3" height="1"/><rect x="856" y="562" width="3" height="1"/><rect x="862" y="562" width="3" height="1"/><rect x="868" y="562" width="3" height="1"/><rect x="874" y="562" width="3" height="1"/><rect x="880" y="562" width="3" height="1"/><rect x="886" y="562" width="3" height="1"/><rect x="892" y="562" width="3" height="1"/><rect x="898" y="562" width="3" height="1"/><rect x="904" y="562" width="3" height="1"/><rect x="910" y="562" width="3" height="1"/><rect x="916" y="562" width="3" height="1"/><rect x="922" y="562" width="3" height="1"/><rect x="928" y="562" width="3" height="1"/><rect x="934" y="562" width="3" height="1"/><rect x="940" y="562" width="3" height="1"/><rect x="946" y="562" width="3" height="1"/><rect x="952" y="562" width="3" height="1"/><rect x="958" y="562" width="3" height="1"/><rect x="964" y="562" width="3" height="1"/><rect x="970" y="562" width="3" height="1"/><rect x="976" y="562" width="3" height="1"/><rect x="982" y="562" width="3" height="1"/><rect x="988" y="562" width="3" height="1"/><rect x="994" y="562" width="3" height="1"/><rect x="1000" y="562" width="3" height="1"/><rect x="1006" y="562" width="3" height="1"/><rect x="1012" y="562" width="3" height="1"/><rect x="1018" y="562" width="3" height="1"/><rect x="1024" y="562" width="3" height="1"/><rect x="1030" y="562" width="3" height="1"/><rect x="1036" y="562" width="3" height="1"/><rect x="1042" y="562" width="3" height="1"/><rect x="1048" y="562" width="3" height="1"/><rect x="1054" y="562" width="3" height="1"/><rect x="1060" y="562" width="3" height="1"/><rect x="1066" y="562" width="3" height="1"/><rect x="1072" y="562" width="3" height="1"/><rect x="1078" y="562" width="3" height="1"/><rect x="1084" y="562" width="3" height="1"/><rect x="1090" y="562" width="3" height="1"/><rect x="1096" y="562" width="3" height="1"/><rect x="1102" y="562" width="3" height="1"/><rect x="1108" y="562" width="3" height="1"/><rect x="1114" y="562" width="3" height="1"/><rect x="1120" y="562" width="3" height="1"/><rect x="1126" y="562" width="3" height="1"/><rect x="1132" y="562" width="3" height="1"/><rect x="1138" y="562" width="3" height="1"/><rect x="1144" y="562" width="3" height="1"/><rect x="1150" y="562" width="3" height="1"/><rect x="1156" y="562" width="3" height="1"/><rect x="1162" y="562" width="3" height="1"/><rect x="1168" y="562" width="3" height="1"/><rect x="1174" y="562" width="3" height="1"/><rect x="1180" y="562" width="3" height="1"/><rect x="1186" y="562" width="3" height="1"/><rect x="1192" y="562" width="3" height="1"/><rect x="1198" y="562" width="3" height="1"/><rect x="1204" y="562" width="3" height="1"/><rect x="1210" y="562" width="3" height="1"/><rect x="1216" y="562" width="3" height="1"/><rect x="1222" y="562" width="3" height="1"/><rect x="1228" y="562" width="3" height="1"/><rect x="1234" y="562" width="3" height="1"/><rect x="1240" y="562" width="3" height="1"/><rect x="1246" y="562" width="3" height="1"/><rect x="1252" y="562" width="3" height="1"/><rect x="1258" y="562" width="3" height="1"/><rect x="1264" y="562" width="3" height="1"/><rect x="1270" y="562" width="3" height="1"/><rect x="1276" y="562" width="3" height="1"/><rect x="1282" y="562" width="3" height="1"/><rect x="1288" y="562" width="3" height="1"/><rect x="1294" y="562" width="3" height="1"/><rect x="1300" y="562" width="3" height="1"/><rect x="1306" y="562" width="3" height="1"/><rect x="1312" y="562" width="3" height="1"/><rect x="1318" y="562" width="3" height="1"/><rect x="1324" y="562" width="3" height="1"/><rect x="1330" y="562" width="3" height="1"/><rect x="1336" y="562" width="3" height="1"/><rect x="1342" y="562" width="3" height="1"/><rect x="1348" y="562" width="3" height="1"/><rect x="1354" y="562" width="3" height="1"/><rect x="1360" y="562" width="3" height="1"/><rect x="1366" y="562" width="3" height="1"/><rect x="1372" y="562" width="3" height="1"/><rect x="1378" y="562" width="3" height="1"/><rect x="1384" y="562" width="3" height="1"/><rect x="1390" y="562" width="3" height="1"/><rect x="1396" y="562" width="3" height="1"/><rect x="1402" y="562" width="3" height="1"/><rect x="1408" y="562" width="3" height="1"/><rect x="1414" y="562" width="3" height="1"/><rect x="1420" y="562" width="3" height="1"/><rect x="1426" y="562" width="3" height="1"/><rect x="1432" y="562" width="3" height="1"/><rect x="1438" y="562" width="3" height="1"/><rect x="1444" y="562" width="3" height="1"/><rect x="1450" y="562" width="3" height="1"/><rect x="1456" y="562" width="3" height="1"/><rect x="1462" y="562" width="3" height="1"/><rect x="1468" y="562" width="3" height="1"/><rect x="1474" y="562" width="3" height="1"/><rect x="1480" y="562" width="3" height="1"/><rect x="1486" y="562" width="3" height="1"/><rect x="1492" y="562" width="3" height="1"/><rect x="1498" y="562" width="3" height="1"/><rect x="1504" y="562" width="3" height="1"/><rect x="1510" y="562" width="3" height="1"/><rect x="1516" y="562" width="3" height="1"/><rect x="1522" y="562" width="3" height="1"/><rect x="1528" y="562" width="3" height="1"/><rect x="1534" y="562" width="3" height="1"/><rect x="1540" y="562" width="3" height="1"/><rect x="1546" y="562" width="3" height="1"/><rect x="1552" y="562" width="3" height="1"/><rect x="1558" y="562" width="3" height="1"/><rect x="1564" y="562" width="3" height="1"/><rect x="1570" y="562" width="3" height="1"/><rect x="1576" y="562" width="3" height="1"/><rect x="1582" y="562" width="3" height="1"/><rect x="1588" y="562" width="3" height="1"/></g>
<g fill="#c0c0c0"><rect x="4" y="598" width="3" height="1"/><rect x="10" y="598" width="3" height="1"/><rect x="16" y="598" width="3" height="1"/><rect x="22" y="598" width="3" height="1"/><rect x="28" y="598" width="3" height="1"/><rect x="34" y="598" width="3" height="1"/><rect x="40" y="598" width="3" height="1"/><rect x="46" y="598" width="3" height="1"/><rect x="52" y="598" width="3" height="1"/><rect x="58" y="598" width="3" height="1"/><rect x="64" y="598" width="3" height="1"/><rect x="70" y="598" width="3" height="1"/><rect x="76" y="598" width="3" height="1"/><rect x="82" y="598" width="3" height="1"/><rect x="88" y="598" width="3" height="1"/><rect x="94" y="598" width="3" height="1"/><rect x="100" y="598" width="3" height="1"/><rect x="106" y="598" width="3" height="1"/><rect x="112" y="598" width="3" height="1"/><rect x="118" y="598" width="3" height="1"/><rect x="124" y="598" width="3" height="1"/><rect x="130" y="598" width="3" height="1"/><rect x="136" y="598" width="3" height="1"/><rect x="142" y="598" width="3" height="1"/><rect x="148" y="598" width="3" height="1"/><rect x="154" y="598" width="3" height="1"/><rect x="160" y="598" width="3" height="1"/><rect x="166" y="598" width="3" height="1"/><rect x="172" y="598" width="3" height="1"/><rect x="178" y="598" width="3" height="1"/><rect x="184" y="598" width="3" height="1"/><rect x="190" y="598" width="3" height="1"/><rect x="196" y="598" width="3" height="1"/><rect x="202" y="598" width="3" height="1"/><rect x="208" y="598" width="3" height="1"/><rect x="214" y="598" width="3" height="1"/><rect x="220" y="598" width="3" height="1"/><rect x="226" y="598" width="3" height="1"/><rect x="232" y="598" width="3" height="1"/><rect x="238" y="598" width="3" height="1"/><rect x="244" y="598" width="3" height="1"/><rect x="250" y="598" width="3" height="1"/><rect x="256" y="598" width="3" height="1"/><rect x="262" y="598" width="3" height="1"/><rect x="268" y="598" width="3" height="1"/><rect x="274" y="598" width="3" height="1"/><rect x="280" y="598" width="3" height="1"/><rect x="286" y="598" width="3" height="1"/><rect x="292" y="598" width="3" height="1"/><rect x="298" y="598" width="3" height="1"/><rect x="304" y="598" width="3" height="1"/><rect x="310" y="598" width="3" height="1"/><rect x="316" y="598" width="3" height="1"/><rect x="322" y="598" width="3" height="1"/><rect x="328" y="598" width="3" height="1"/><rect x="334" y="598" width="3" height="1"/><rect x="340" y="598" width="3" height="1"/><rect x="346" y="598" width="3" height="1"/><rect x="352" y="598" width="3" height="1"/><rect x="358" y="598" width="3" height="1"/><rect x="364" y="598" width="3" height="1"/><rect x="370" y="598" width="3" height="1"/><rect x="376" y="598" width="3" height="1"/><rect x="382" y="598" width="3" height="1"/><rect x="388" y="598" width="3" height="1"/><rect x="394" y="598" width="3" height="1"/><rect x="400" y="598" width="3" height="1"/><rect x="406" y="598" width="3" height="1"/><rect x="412" y="598" width="3" height="1"/><rect x="418" y="598" width="3" height="1"/><rect x="424" y="598" width="3" height="1"/><rect x="430" y="598" width="3" height="1"/><rect x="436" y="598" width="3" height="1"/><rect x="442" y="598" width="3" height="1"/><rect x="448" y="598" width="3" height="1"/><rect x="454" y="598" width="3" height="1"/><rect x="460" y="598" width="3" height="1"/><rect x="466" y="598" width="3" height="1"/><rect x="472" y="598" width="3" height="1"/><rect x="478" y="598" width="3" height="1"/><rect x="484" y="598" width="3" height="1"/><rect x="490" y="598" width="3" height="1"/><rect x="496" y="598" width="3" height="1"/><rect x="502" y="598" width="3" height="1"/><rect x="508" y="598" width="3" height="1"/><rect x="514" y="598" width="3" height="1"/><rect x="520" y="598" width="3" height="1"/><rect x="526" y="598" width="3" height="1"/><rect x="532" y="598" width="3" height="1"/><rect x="538" y="598" width="3" height="1"/><rect x="544" y="598" width="3" height="1"/><rect x="550" y="598" width="3" height="1"/><rect x="556" y="598" width="3" height="1"/><rect x="562" y="598" width="3" height="1"/><rect x="568" y="598" width="3" height="1"/><rect x="574" y="598" width="3" height="1"/><rect x="580" y="598" width="3" height="1"/><rect x="586" y="598" width="3" height="1"/><rect x="592" y="598" width="3" height="1"/><rect x="598" y="598" width="3" height="1"/><rect x="604" y="598" width="3" height="1"/><rect x="610" y="598" width="3" height="1"/><rect x="616" y="598" width="3" height="1"/><rect x="622" y="598" width="3" height="1"/><rect x="628" y="598" width="3" height="1"/><rect x="634" y="598" width="3" height="1"/><rect x="640" y="598" width="3" height="1"/><rect x="646" y="598" width="3" height="1"/><rect x="652" y="598" width="3" height="1"/><rect x="658" y="598" width="3" height="1"/><rect x="664" y="598" width="3" height="1"/><rect x="670" y="598" width="3" height="1"/><rect x="676" y="598" width="3" height="1"/><rect x="682" y="598" width="3" height="1"/><rect x="688" y="598" width="3" height="1"/><rect x="694" y="598" width="3" height="1"/><rect x="700" y="598" width="3" height="1"/><rect x="706" y="598" width="3" height="1"/><rect x="712" y="598" width="3" height="1"/><rect x="718" y="598" width="3" height="1"/><rect x="724" y="598" width="3" height="1"/><rect x="730" y="598" width="3" height="1"/><rect x="736" y="598" width="3" height="1"/><rect x="742" y="598" width="3" height="1"/><rect x="748" y="598" width="3" height="1"/><rect x="754" y="598" width="3" height="1"/><rect x="760" y="598" width="3" height="1"/><rect x="766" y="598" width="3" height="1"/><rect x="772" y="598" width="3" height="1"/><rect x="778" y="598" width="3" height="1"/><rect x="784" y="598" width="3" height="1"/><rect x="790" y="598" width="3" height="1"/><rect x="796" y="598" width="3" height="1"/><rect x="802" y="598" width="3" height="1"/><rect x="808" y="598" width="3" height="1"/><rect x="814" y="598" width="3" height="1"/><rect x="820" y="598" width="3" height="1"/><rect x="826" y="598" width="3" height="1"/><rect x="832" y="598" width="3" height="1"/><rect x="838" y="598" width="3" height="1"/><rect x="844" y="598" width="3" height="1"/><rect x="850" y="598" width="3" height="1"/><rect x="856" y="598" width="3" height="1"/><rect x="862" y="598" width="3" height="1"/><rect x="868" y="598" width="3" height="1"/><rect x="874" y="598" width="3" height="1"/><rect x="880" y="598" width="3" height="1"/><rect x="886" y="598" width="3" height="1"/><rect x="892" y="598" width="3" height="1"/><rect x="898" y="598" width="3" height="1"/><rect x="904" y="598" width="3" height="1"/><rect x="910" y="598" width="3" height="1"/><rect x="916" y="598" width="3" height="1"/><rect x="922" y="598" width="3" height="1"/><rect x="928" y="598" width="3" height="1"/><rect x="934" y="598" width="3" height="1"/><rect x="940" y="598" width="3" height="1"/><rect x="946" y="598" width="3" height="1"/><rect x="952" y="598" width="3" height="1"/><rect x="958" y="598" width="3" height="1"/><rect x="964" y="598" width="3" height="1"/><rect x="970" y="598" width="3" height="1"/><rect x="976" y="598" width="3" height="1"/><rect x="982" y="598" width="3" height="1"/><rect x="988" y="598" width="3" height="1"/><rect x="994" y="598" width="3" height="1"/><rect x="1000" y="598" width="3" height="1"/><rect x="1006" y="598" width="3" height="1"/><rect x="1012" y="598" width="3" height="1"/><rect x="1018" y="598" width="3" height="1"/><rect x="1024" y="598" width="3" height="1"/><rect x="1030" y="598" width="3" height="1"/><rect x="1036" y="598" width="3" height="1"/><rect x="1042" y="598" width="3" height="1"/><rect x="1048" y="598" width="3" height="1"/><rect x="1054" y="598" width="3" height="1"/><rect x="1060" y="598" width="3" height="1"/><rect x="1066" y="598" width="3" height="1"/><rect x="1072" y="598" width="3" height="1"/><rect x="1078" y="598" width="3" height="1"/><rect x="1084" y="598" width="3" height="1"/><rect x="1090" y="598" width="3" height="1"/><rect x="1096" y="598" width="3" height="1"/><rect x="1102" y="598" width="3" height="1"/><rect x="1108" y="598" width="3" height="1"/><rect x="1114" y="598" width="3" height="1"/><rect x="1120" y="598" width="3" height="1"/><rect x="1126" y="598" width="3" height="1"/><rect x="1132" y="598" width="3" height="1"/><rect x="1138" y="598" width="3" height="1"/><rect x="1144" y="598" width="3" height="1"/><rect x="1150" y="598" width="3" height="1"/><rect x="1156" y="598" width="3" height="1"/><rect x="1162" y="598" width="3" height="1"/><rect x="1168" y="598" width="3" height="1"/><rect x="1174" y="598" width="3" height="1"/><rect x="1180" y="598" width="3" height="1"/><rect x="1186" y="598" width="3" height="1"/><rect x="1192" y="598" width="3" height="1"/><rect x="1198" y="598" width="3" height="1"/><rect x="1204" y="598" width="3" height="1"/><rect x="1210" y="598" width="3" height="1"/><rect x="1216" y="598" width="3" height="1"/><rect x="1222" y="598" width="3" height="1"/><rect x="1228" y="598" width="3" height="1"/><rect x="1234" y="598" width="3" height="1"/><rect x="1240" y="598" width="3" height="1"/><rect x="1246" y="598" width="3" height="1"/><rect x="1252" y="598" width="3" height="1"/><rect x="1258" y="598" width="3" height="1"/><rect x="1264" y="598" width="3" height="1"/><rect x="1270" y="598" width="3" height="1"/><rect x="1276" y="598" width="3" height="1"/><rect x="1282" y="598" width="3" height="1"/><rect x="1288" y="598" width="3" height="1"/><rect x="1294" y="598" width="3" height="1"/><rect x="1300" y="598" width="3" height="1"/><rect x="1306" y="598" width="3" height="1"/><rect x="1312" y="598" width="3" height="1"/><rect x="1318" y="598" width="3" height="1"/><rect x="1324" y="598" width="3" height="1"/><rect x="1330" y="598" width="3" height="1"/><rect x="1336" y="598" width="3" height="1"/><rect x="1342" y="598" width="3" height="1"/><rect x="1348" y="598" width="3" height="1"/><rect x="1354" y="598" width="3" height="1"/><rect x="1360" y="598" width="3" height="1"/><rect x="1366" y="598" width="3" height="1"/><rect x="1372" y="598" width="3" height="1"/><rect x="1378" y="598" width="3" height="1"/><rect x="1384" y="598" width="3" height="1"/><rect x="1390" y="598" width="3" height="1"/><rect x="1396" y="598" width="3" height="1"/><rect x="1402" y="598" width="3" height="1"/><rect x="1408" y="598" width="3" height="1"/><rect x="1414" y="598" width="3" height="1"/><rect x="1420" y="598" width="3" height="1"/><rect x="1426" y="598" width="3" height="1"/><rect x="1432" y="598" width="3" height="1"/><rect x="1438" y="598" width="3" height="1"/><rect x="1444" y="598" width="3" height="1"/><rect x="1450" y="598" width="3" height="1"/><rect x="1456" y="598" width="3" height="1"/><rect x="1462" y="598" width="3" height="1"/><rect x="1468" y="598" width="3" height="1"/><rect x="1474" y="598" width="3" height="1"/><rect x="1480" y="598" width="3" height="1"/><rect x="1486" y="598" width="3" height="1"/><rect x="1492" y="598" width="3" height="1"/><rect x="1498" y="598" width="3" height="1"/><rect x="1504" y="598" width="3" height="1"/><rect x="1510" y="598" width="3" height="1"/><rect x="1516" y="598" width="3" height="1"/><rect x="1522" y="598" width="3" height="1"/><rect x="1528" y="598" width="3" height="1"/><rect x="1534" y="598" width="3" height="1"/><rect x="1540" y="598" width="3" height="1"/><rect x="1546" y="598" width="3" height="1"/><rect x="1552" y="598" width="3" height="1"/><rect x="1558" y="598" width="3" height="1"/><rect x="1564" y="598" width="3" height="1"/><rect x="1570" y="598" width="3" height="1"/><rect x="1576" y="598" width="3" height="1"/><rect x="1582" y="598" width="3" height="1"/><rect x="1588" y="598" width="3" height="1"/></g>
<g clip-path="url(#cr)">
<polyline points="3.5,568.5 7.5,568.5 11.5,568.5 15.5,578.8 19.5,580.1 23.5,584.4 27.5,582.4 31.5,592.1 35.5,590.6 39.5,592.3 43.5,591.7 47.5,582.5 51.5,582.3 55.5,583.6 59.5,579.7 63.5,582.4 67.5,589.5 71.5,585.8 75.5,586.6 79.5,587.4 83.5,587.5 87.5,588.4 91.5,596.3 95.5,597.9 99.5,594.1 103.5,598.1 107.5,596.4 111.5,592.7 115.5,591.5 119.5,594.1 123.5,601.2 127.5,590.8 131.5,591.2 135.5,578.4 139.5,578.2 143.5,574.1 147.5,578.2 151.5,576.3 155.5,578.6 159.5,577.9 163.5,582.0 167.5,586.5 171.5,590.9 175.5,592.4 179.5,591.0 183.5,591.0 187.5,591.6 191.5,590.5 195.5,591.4 199.5,581.0 203.5,584.7 207.5,587.0 211.5,588.4 215.5,589.5 219.5,592.9 223.5,599.6 227.5,600.6 231.5,601.3 235.5,601.4 239.5,589.6 243.5,587.3 247.5,586.3 251.5,588.2 255.5,583.5 259.5,585.3 263.5,590.8 267.5,579.3 271.5,579.6 275.5,580.8 279.5,588.4 283.5,580.6 287.5,581.7 291.5,582.9 295.5,587.4 299.5,585.8 303.5,588.6 307.5,586.9 311.5,592.3 315.5,593.5 319.5,592.5 323.5,593.1 327.5,596.4 331.5,591.2 335.5,588.2 339.5,581.7 343.5,584.5 347.5,582.4 351.5,582.4 355.5,587.1 359.5,582.4 363.5,577.0 367.5,574.7 371.5,574.3 375.5,576.9 379.5,575.6 383.5,570.3 387.5,565.3 391.5,563.1 395.5,562.4 399.5,565.9 403.5,567.3 407.5,571.0 411.5,574.5 415.5,577.2 419.5,577.8 423.5,575.4 427.5,572.1 431.5,571.4 435.5,567.0 439.5,565.4 443.5,567.8 447.5,568.6 451.5,583.4 455.5,583.4 459.5,587.4 463.5,590.6 467.5,591.0 471.5,587.2 475.5,590.7 479.5,590.9 483.5,591.4 487.5,582.0 491.5,581.4 495.5,577.2 499.5,578.7 503.5,580.3 507.5,578.1 511.5,585.2 515.5,586.9 519.5,589.3 523.5,589.8 527.5,590.6 531.5,589.3 535.5,584.2 539.5,586.5 543.5,575.5 547.5,573.8 551.5,573.0 555.5,571.8 559.5,581.6 563.5,580.3 567.5,577.2 571.5,573.9 575.5,577.6 579.5,570.9 583.5,568.6 587.5,571.9 591.5,569.5 595.5,567.1 599.5,573.3 603.5,575.0 607.5,580.7 611.5,583.6 615.5,580.2 619.5,579.6 623.5,580.9 627.5,578.3 631.5,568.8 635.5,566.6 639.5,564.2 643.5,562.5 647.5,564.1 651.5,567.3 655.5,575.3 659.5,574.3 663.5,571.8 667.5,580.0 671.5,583.2 675.5,585.2 679.5,583.6 683.5,582.1 687.5,579.9 691.5,582.1 695.5,576.9 699.5,579.2 703.5,586.7 707.5,587.0 711.5,588.3 715.5,584.7 719.5,588.5 723.5,592.5 727.5,594.8 731.5,594.0 735.5,595.9 739.5,597.2 743.5,597.6 747.5,588.6 751.5,580.0 755.5,578.9 759.5,584.6 763.5,586.7 767.5,591.3 771.5,594.5 775.5,595.8 779.5,597.6 783.5,599.7 787.5,600.5 791.5,602.4 795.5,605.8 799.5,606.0 803.5,606.5 807.5,607.0 811.5,607.6 815.5,609.7 819.5,606.1 823.5,594.0 827.5,592.8 831.5,593.0 835.5,591.0 839.5,590.6 843.5,571.3 847.5,570.9 851.5,566.2 855.5,558.6 859.5,556.1 863.5,562.4 867.5,559.5 871.5,554.2 875.5,553.8 879.5,550.6 883.5,560.3 887.5,566.4 891.5,581.4 895.5,582.1 899.5,581.9 903.5,577.8 907.5,587.3 911.5,593.2 915.5,597.8 919.5,598.3 923.5,599.1 927.5,591.8 931.5,589.5 935.5,587.1 939.5,577.2 943.5,575.7 947.5,573.1 951.5,578.7 955.5,578.8 959.5,582.9 963.5,586.1 967.5,588.8 971.5,587.9 975.5,588.2 979.5,583.1 983.5,584.5 987.5,580.3 991.5,579.4 995.5,580.2 999.5,582.1 1003.5,577.9 1007.5,581.7 1011.5,585.8 1015.5,582.9 1019.5,583.8 1023.5,583.4 1027.5,584.8 1031.5,586.3 1035.5,587.4 1039.5,588.6 1043.5,588.6 1047.5,585.1 1051.5,584.3 1055.5,582.6 1059.5,575.4 1063.5,570.7 1067.5,573.0 1071.5,579.2 1075.5,584.3 1079.5,587.2 1083.5,586.3 1087.5,582.6 1091.5,583.7 1095.5,584.8 1099.5,580.4 1103.5,583.8 1107.5,586.7 1111.5,584.4 1115.5,585.2 1119.5,576.7 1123.5,574.0 1127.5,570.9 1131.5,573.9 1135.5,579.4 1139.5,579.1 1143.5,579.2 1147.5,572.9 1151.5,573.3 1155.5,566.1 1159.5,564.1 1163.5,565.0 1167.5,563.6 1171.5,561.2 1175.5,557.5 1179.5,554.7 1183.5,557.9 1187.5,558.4 1191.5,558.4 1195.5,555.9 1199.5,555.7 1203.5,554.6 1207.5,570.3 1211.5,572.9 1215.5,570.1 1219.5,571.5 1223.5,575.2 1227.5,575.8 1231.5,578.4 1235.5,578.7 1239.5,572.1 1243.5,567.8 1247.5,573.5 1251.5,578.2 1255.5,578.7 1259.5,577.5 1263.5,576.5 1267.5,576.2" fill="none" stroke="#1e90ff" stroke-width="1" />
</g>
<text x="6.5" y="547" font-size="10" fill="#000" color="#000" textLength="69.00" lengthAdjust="spacingAndGlyphs">RSI(14) 54.7776</text>
<text x="1598.5" y="545" font-size="10" fill="#000" color="#000" textLength="14.77" lengthAdjust="spacingAndGlyphs">100</text>
<text x="1598.5" y="566" font-size="10" fill="#000" color="#000" textLength="9.85" lengthAdjust="spacingAndGlyphs">70</text>
<text x="1598.5" y="602" font-size="10" fill="#000" color="#000" textLength="9.85" lengthAdjust="spacingAndGlyphs">30</text>
<text x="1598.5" y="623" font-size="10" fill="#000" color="#000" textLength="4.92" lengthAdjust="spacingAndGlyphs">0</text>
<rect x="1596" y="535" width="2" height="1" fill="#000"/>
<rect x="1596" y="625" width="2" height="1" fill="#000"/>
<g clip-path="url(#cd)"><g fill="#c0c0c0"><rect x="3" y="666" width="1" height="18"/><rect x="7" y="666" width="1" height="18"/><rect x="11" y="666" width="1" height="18"/><rect x="15" y="668" width="1" height="16"/><rect x="19" y="671" width="1" height="13"/><rect x="23" y="674" width="1" height="10"/><rect x="27" y="676" width="1" height="8"/><rect x="31" y="680" width="1" height="4"/><rect x="35" y="682" width="1" height="2"/><rect x="39" y="683" width="1" height="3"/><rect x="43" y="683" width="1" height="5"/><rect x="47" y="683" width="1" height="5"/><rect x="51" y="683" width="1" height="5"/><rect x="55" y="683" width="1" height="5"/><rect x="59" y="683" width="1" height="5"/><rect x="63" y="683" width="1" height="5"/><rect x="67" y="683" width="1" height="6"/><rect x="71" y="683" width="1" height="7"/><rect x="75" y="683" width="1" height="7"/><rect x="79" y="683" width="1" height="8"/><rect x="83" y="683" width="1" height="8"/><rect x="87" y="683" width="1" height="8"/><rect x="91" y="683" width="1" height="11"/><rect x="95" y="683" width="1" height="13"/><rect x="99" y="683" width="1" height="14"/><rect x="103" y="683" width="1" height="15"/><rect x="107" y="683" width="1" height="16"/><rect x="111" y="683" width="1" height="17"/><rect x="115" y="683" width="1" height="16"/><rect x="119" y="683" width="1" height="17"/><rect x="123" y="683" width="1" height="19"/><rect x="127" y="683" width="1" height="19"/><rect x="131" y="683" width="1" height="19"/><rect x="135" y="683" width="1" height="15"/><rect x="139" y="683" width="1" height="13"/><rect x="143" y="683" width="1" height="9"/><rect x="147" y="683" width="1" height="8"/><rect x="151" y="683" width="1" height="6"/><rect x="155" y="683" width="1" height="4"/><rect x="159" y="683" width="1" height="3"/><rect x="163" y="683" width="1" height="4"/><rect x="167" y="683" width="1" height="5"/><rect x="171" y="683" width="1" height="7"/><rect x="175" y="683" width="1" height="9"/><rect x="179" y="683" width="1" height="11"/><rect x="183" y="683" width="1" height="12"/><rect x="187" y="683" width="1" height="13"/><rect x="191" y="683" width="1" height="13"/><rect x="195" y="683" width="1" height="13"/><rect x="199" y="683" width="1" height="12"/><rect x="203" y="683" width="1" height="11"/><rect x="207" y="683" width="1" height="11"/><rect x="211" y="683" width="1" height="11"/><rect x="215" y="683" width="1" height="12"/><rect x="219" y="683" width="1" height="13"/><rect x="223" y="683" width="1" height="16"/><rect x="227" y="683" width="1" height="18"/><rect x="231" y="683" width="1" height="20"/><rect x="235" y="683" width="1" height="22"/><rect x="239" y="683" width="1" height="21"/><rect x="243" y="683" width="1" height="19"/><rect x="247" y="683" width="1" height="18"/><rect x="251" y="683" width="1" height="17"/><rect x="255" y="683" width="1" height="15"/><rect x="259" y="683" width="1" height="14"/><rect x="263" y="683" width="1" height="15"/><rect x="267" y="683" width="1" height="12"/><rect x="271" y="683" width="1" height="10"/><rect x="275" y="683" width="1" height="9"/><rect x="279" y="683" width="1" height="10"/><rect x="283" y="683" width="1" height="9"/><rect x="287" y="683" width="1" height="8"/><rect x="291" y="683" width="1" height="8"/><rect x="295" y="683" width="1" height="9"/><rect x="299" y="683" width="1" height="9"/><rect x="303" y="683" width="1" height="10"/><rect x="307" y="683" width="1" height="10"/><rect x="311" y="683" width="1" height="12"/><rect x="315" y="683" width="1" height="14"/><rect x="319" y="683" width="1" height="15"/><rect x="323" y="683" width="1" height="16"/><rect x="327" y="683" width="1" height="17"/><rect x="331" y="683" width="1" height="18"/><rect x="335" y="683" width="1" height="17"/><rect x="339" y="683" width="1" height="15"/><rect x="343" y="683" width="1" height="14"/><rect x="347" y="683" width="1" height="12"/><rect x="351" y="683" width="1" height="11"/><rect x="355" y="683" width="1" height="11"/><rect x="359" y="683" width="1" height="10"/><rect x="363" y="683" width="1" height="8"/><rect x="367" y="683" width="1" height="6"/><rect x="371" y="683" width="1" height="4"/><rect x="375" y="683" width="1" height="2"/><rect x="379" y="683" width="1" height="1"/><rect x="383" y="681" width="1" height="3"/><rect x="387" y="678" width="1" height="6"/><rect x="391" y="674" width="1" height="10"/><rect x="395" y="671" width="1" height="13"/><rect x="399" y="670" width="1" height="14"/><rect x="403" y="669" width="1" height="15"/><rect x="407" y="669" width="1" height="15"/><rect x="411" y="670" width="1" height="14"/><rect x="415" y="672" width="1" height="12"/><rect x="419" y="673" width="1" height="11"/><rect x="423" y="674" width="1" height="10"/><rect x="427" y="674" width="1" height="10"/><rect x="431" y="674" width="1" height="10"/><rect x="435" y="672" width="1" height="12"/><rect x="439" y="671" width="1" height="13"/><rect x="443" y="671" width="1" height="13"/><rect x="447" y="671" width="1" height="13"/><rect x="451" y="674" width="1" height="10"/><rect x="455" y="676" width="1" height="8"/><rect x="459" y="679" width="1" height="5"/><rect x="463" y="682" width="1" height="2"/><rect x="467" y="683" width="1" height="2"/><rect x="471" y="683" width="1" height="4"/><rect x="475" y="683" width="1" height="5"/><rect x="479" y="683" width="1" height="7"/><rect x="483" y="683" width="1" height="8"/><rect x="487" y="683" width="1" height="8"/><rect x="491" y="683" width="1" height="7"/><rect x="495" y="683" width="1" height="6"/><rect x="499" y="683" width="1" height="5"/><rect x="503" y="683" width="1" height="4"/><rect x="507" y="683" width="1" height="3"/><rect x="511" y="683" width="1" height="4"/><rect x="515" y="683" width="1" height="5"/><rect x="519" y="683" width="1" height="6"/><rect x="523" y="683" width="1" height="7"/><rect x="527" y="683" width="1" height="8"/><rect x="531" y="683" width="1" height="9"/><rect x="535" y="683" width="1" height="8"/><rect x="539" y="683" width="1" height="8"/><rect x="543" y="683" width="1" height="6"/><rect x="547" y="683" width="1" height="4"/><rect x="551" y="683" width="1" height="3"/><rect x="555" y="683" width="1" height="1"/><rect x="559" y="683" width="1" height="1"/><rect x="563" y="683" width="1" height="1"/><rect x="567" y="683" width="1" height="1"/><rect x="571" y="682" width="1" height="2"/><rect x="575" y="682" width="1" height="2"/><rect x="579" y="680" width="1" height="4"/><rect x="583" y="678" width="1" height="6"/><rect x="587" y="678" width="1" height="6"/><rect x="591" y="676" width="1" height="8"/><rect x="595" y="675" width="1" height="9"/><rect x="599" y="675" width="1" height="9"/><rect x="603" y="675" width="1" height="9"/><rect x="607" y="677" width="1" height="7"/><rect x="611" y="678" width="1" height="6"/><rect x="615" y="679" width="1" height="5"/><rect x="619" y="680" width="1" height="4"/><rect x="623" y="681" width="1" height="3"/><rect x="627" y="681" width="1" height="3"/><rect x="631" y="679" width="1" height="5"/><rect x="635" y="677" width="1" height="7"/><rect x="639" y="674" width="1" height="10"/><rect x="643" y="672" width="1" height="12"/><rect x="647" y="671" width="1" height="13"/><rect x="651" y="670" width="1" height="14"/><rect x="655" y="671" width="1" height="13"/><rect x="659" y="672" width="1" height="12"/><rect x="663" y="672" width="1" height="12"/><rect x="667" y="674" width="1" height="10"/><rect x="671" y="676" width="1" height="8"/><rect x="675" y="678" width="1" height="6"/><rect x="679" y="680" width="1" height="4"/><rect x="683" y="681" width="1" height="3"/><rect x="687" y="681" width="1" height="3"/><rect x="691" y="682" width="1" height="2"/><rect x="695" y="682" width="1" height="2"/><rect x="699" y="682" width="1" height="2"/><rect x="703" y="683" width="1" height="1"/><rect x="707" y="683" width="1" height="3"/><rect x="711" y="683" width="1" height="4"/><rect x="715" y="683" width="1" height="5"/><rect x="719" y="683" width="1" height="6"/><rect x="723" y="683" width="1" height="8"/><rect x="727" y="683" width="1" height="10"/><rect x="731" y="683" width="1" height="11"/><rect x="735" y="683" width="1" height="13"/><rect x="739" y="683" width="1" height="14"/><rect x="743" y="683" width="1" height="15"/><rect x="747" y="683" width="1" height="15"/><rect x="751" y="683" width="1" height="12"/><rect x="755" y="683" width="1" height="10"/><rect x="759" y="683" width="1" height="10"/><rect x="763" y="683" width="1" height="10"/><rect x="767" y="683" width="1" height="11"/><rect x="771" y="683" width="1" height="13"/><rect x="775" y="683" width="1" height="14"/><rect x="779" y="683" width="1" height="16"/><rect x="783" y="683" width="1" height="18"/><rect x="787" y="683" width="1" height="19"/><rect x="791" y="683" width="1" height="21"/><rect x="795" y="683" width="1" height="24"/><rect x="799" y="683" width="1" height="26"/><rect x="803" y="683" width="1" height="27"/><rect x="807" y="683" width="1" height="28"/><rect x="811" y="683" width="1" height="29"/><rect x="815" y="683" width="1" height="30"/><rect x="819" y="683" width="1" height="31"/><rect x="823" y="683" width="1" height="29"/><rect x="827" y="683" width="1" height="27"/><rect x="831" y="683" width="1" height="25"/><rect x="835" y="683" width="1" height="24"/><rect x="839" y="683" width="1" height="22"/><rect x="843" y="683" width="1" height="17"/><rect x="847" y="683" width="1" height="12"/><rect x="851" y="683" width="1" height="7"/><rect x="855" y="682" width="1" height="2"/><rect x="859" y="674" width="1" height="10"/><rect x="863" y="670" width="1" height="14"/><rect x="867" y="665" width="1" height="19"/><rect x="871" y="658" width="1" height="26"/><rect x="875" y="652" width="1" height="32"/><rect x="879" y="645" width="1" height="39"/><rect x="883" y="642" width="1" height="42"/><rect x="887" y="642" width="1" height="42"/><rect x="891" y="649" width="1" height="35"/><rect x="895" y="655" width="1" height="29"/><rect x="899" y="661" width="1" height="23"/><rect x="903" y="663" width="1" height="21"/><rect x="907" y="670" width="1" height="14"/><rect x="911" y="681" width="1" height="3"/><rect x="915" y="683" width="1" height="11"/><rect x="919" y="683" width="1" height="22"/><rect x="923" y="683" width="1" height="30"/><rect x="927" y="683" width="1" height="33"/><rect x="931" y="683" width="1" height="34"/><rect x="935" y="683" width="1" height="33"/><rect x="939" y="683" width="1" height="26"/><rect x="943" y="683" width="1" height="19"/><rect x="947" y="683" width="1" height="11"/><rect x="951" y="683" width="1" height="8"/><rect x="955" y="683" width="1" height="6"/><rect x="959" y="683" width="1" height="7"/><rect x="963" y="683" width="1" height="10"/><rect x="967" y="683" width="1" height="15"/><rect x="971" y="683" width="1" height="17"/><rect x="975" y="683" width="1" height="19"/><rect x="979" y="683" width="1" height="18"/><rect x="983" y="683" width="1" height="18"/><rect x="987" y="683" width="1" height="15"/><rect x="991" y="683" width="1" height="13"/><rect x="995" y="683" width="1" height="11"/><rect x="999" y="683" width="1" height="10"/><rect x="1003" y="683" width="1" height="8"/><rect x="1007" y="683" width="1" height="7"/><rect x="1011" y="683" width="1" height="9"/><rect x="1015" y="683" width="1" height="9"/><rect x="1019" y="683" width="1" height="10"/><rect x="1023" y="683" width="1" height="10"/><rect x="1027" y="683" width="1" height="11"/><rect x="1031" y="683" width="1" height="12"/><rect x="1035" y="683" width="1" height="13"/><rect x="1039" y="683" width="1" height="15"/><rect x="1043" y="683" width="1" height="16"/><rect x="1047" y="683" width="1" height="15"/><rect x="1051" y="683" width="1" height="15"/><rect x="1055" y="683" width="1" height="13"/><rect x="1059" y="683" width="1" height="10"/><rect x="1063" y="683" width="1" height="4"/><rect x="1067" y="683" width="1" height="1"/><rect x="1071" y="683" width="1" height="1"/><rect x="1075" y="683" width="1" height="3"/><rect x="1079" y="683" width="1" height="5"/><rect x="1083" y="683" width="1" height="7"/><rect x="1087" y="683" width="1" height="7"/><rect x="1091" y="683" width="1" height="7"/><rect x="1095" y="683" width="1" height="8"/><rect x="1099" y="683" width="1" height="7"/><rect x="1103" y="683" width="1" height="8"/><rect x="1107" y="683" width="1" height="9"/><rect x="1111" y="683" width="1" height="9"/><rect x="1115" y="683" width="1" height="10"/><rect x="1119" y="683" width="1" height="7"/><rect x="1123" y="683" width="1" height="4"/><rect x="1127" y="682" width="1" height="2"/><rect x="1131" y="680" width="1" height="4"/><rect x="1135" y="680" width="1" height="4"/><rect x="1139" y="680" width="1" height="4"/><rect x="1143" y="680" width="1" height="4"/><rect x="1147" y="678" width="1" height="6"/><rect x="1151" y="676" width="1" height="8"/><rect x="1155" y="672" width="1" height="12"/><rect x="1159" y="667" width="1" height="17"/><rect x="1163" y="664" width="1" height="20"/><rect x="1167" y="661" width="1" height="23"/><rect x="1171" y="658" width="1" height="26"/><rect x="1175" y="653" width="1" height="31"/><rect x="1179" y="646" width="1" height="38"/><rect x="1183" y="643" width="1" height="41"/><rect x="1187" y="641" width="1" height="43"/><rect x="1191" y="640" width="1" height="44"/><rect x="1195" y="637" width="1" height="47"/><rect x="1199" y="636" width="1" height="48"/><rect x="1203" y="635" width="1" height="49"/><rect x="1207" y="638" width="1" height="46"/><rect x="1211" y="642" width="1" height="42"/><rect x="1215" y="645" width="1" height="39"/><rect x="1219" y="648" width="1" height="36"/><rect x="1223" y="651" width="1" height="33"/><rect x="1227" y="655" width="1" height="29"/><rect x="1231" y="659" width="1" height="25"/><rect x="1235" y="662" width="1" height="22"/><rect x="1239" y="663" width="1" height="21"/><rect x="1243" y="661" width="1" height="23"/><rect x="1247" y="662" width="1" height="22"/><rect x="1251" y="665" width="1" height="19"/><rect x="1255" y="667" width="1" height="17"/><rect x="1259" y="669" width="1" height="15"/><rect x="1263" y="670" width="1" height="14"/><rect x="1267" y="671" width="1" height="13"/></g>
<polyline points="3.5,671.8 7.5,670.4 11.5,669.0 15.5,667.9 19.5,667.3 23.5,667.4 27.5,668.0 31.5,669.3 35.5,671.0 39.5,673.2 43.5,675.5 47.5,677.9 51.5,679.9 55.5,681.8 59.5,683.2 63.5,684.4 67.5,685.4 71.5,686.0 75.5,686.5 79.5,686.7 83.5,687.1 87.5,687.4 91.5,688.0 95.5,688.9 99.5,689.9 103.5,691.0 107.5,692.1 111.5,693.2 115.5,694.1 119.5,695.1 123.5,696.3 127.5,697.2 131.5,697.8 135.5,698.0 139.5,697.7 143.5,696.9 147.5,695.9 151.5,694.7 155.5,693.4 159.5,691.6 163.5,689.9 167.5,688.4 171.5,687.5 175.5,687.1 179.5,687.3 183.5,687.7 187.5,688.5 191.5,689.5 195.5,690.6 199.5,691.5 203.5,692.2 207.5,692.6 211.5,692.8 215.5,692.9 219.5,693.0 223.5,693.4 227.5,694.0 231.5,694.8 235.5,695.9 239.5,697.0 243.5,697.9 247.5,698.7 251.5,699.3 255.5,699.5 259.5,699.4 263.5,699.0 267.5,698.1 271.5,696.8 275.5,695.5 279.5,694.5 283.5,693.4 287.5,692.4 291.5,691.6 295.5,691.0 299.5,690.3 303.5,690.1 307.5,690.0 311.5,690.4 315.5,690.8 319.5,691.5 323.5,692.3 327.5,693.4 331.5,694.4 335.5,695.3 339.5,695.8 343.5,696.2 347.5,696.2 351.5,695.9 355.5,695.5 359.5,694.9 363.5,693.9 367.5,692.5 371.5,691.1 375.5,689.7 379.5,688.3 383.5,686.8 387.5,685.1 391.5,683.0 395.5,680.7 399.5,678.4 403.5,676.4 407.5,674.6 411.5,673.0 415.5,671.7 419.5,670.8 423.5,670.4 427.5,670.3 431.5,670.6 435.5,670.9 439.5,671.1 443.5,671.3 447.5,671.3 451.5,671.5 455.5,671.8 459.5,672.4 463.5,673.3 467.5,674.4 471.5,675.9 475.5,677.7 479.5,679.7 483.5,681.9 487.5,683.7 491.5,685.1 495.5,686.1 499.5,686.7 503.5,686.9 507.5,686.9 511.5,686.7 515.5,686.5 519.5,686.3 523.5,686.2 527.5,686.4 531.5,686.7 535.5,687.1 539.5,687.5 543.5,687.8 547.5,687.8 551.5,687.6 555.5,687.0 559.5,686.4 563.5,685.6 567.5,684.8 571.5,683.9 575.5,683.0 579.5,682.1 583.5,681.2 587.5,680.4 591.5,679.6 595.5,678.7 599.5,677.7 603.5,676.9 607.5,676.3 611.5,675.9 615.5,675.8 619.5,676.0 623.5,676.4 627.5,676.8 631.5,677.3 635.5,677.5 639.5,677.3 643.5,676.8 647.5,675.9 651.5,674.9 655.5,673.9 659.5,673.0 663.5,672.0 667.5,671.5 671.5,671.4 675.5,671.9 679.5,672.7 683.5,673.9 687.5,675.1 691.5,676.3 695.5,677.4 699.5,678.5 703.5,679.6 707.5,680.5 711.5,681.4 715.5,682.2 719.5,683.0 723.5,683.9 727.5,685.0 731.5,686.2 735.5,687.7 739.5,689.1 743.5,690.4 747.5,691.6 751.5,692.4 755.5,692.9 759.5,693.2 763.5,693.2 767.5,693.2 771.5,693.3 775.5,693.3 779.5,693.4 783.5,693.8 787.5,694.6 791.5,695.8 795.5,697.3 799.5,699.0 803.5,700.8 807.5,702.5 811.5,704.2 815.5,705.7 819.5,707.2 823.5,708.2 827.5,708.9 831.5,709.1 835.5,708.8 839.5,708.2 843.5,706.9 847.5,705.1 851.5,702.5 855.5,699.0 859.5,695.0 863.5,690.6 867.5,686.0 871.5,680.7 875.5,674.9 879.5,668.9 883.5,663.1 887.5,657.9 891.5,654.3 895.5,652.2 899.5,651.1 903.5,650.8 907.5,652.2 911.5,655.4 915.5,660.8 919.5,667.7 923.5,675.5 927.5,682.9 931.5,689.6 935.5,695.7 939.5,700.7 943.5,704.1 947.5,705.5 951.5,705.2 955.5,703.5 959.5,700.9 963.5,698.4 967.5,696.2 971.5,694.4 975.5,693.6 979.5,693.6 983.5,694.3 987.5,695.1 991.5,695.8 995.5,696.2 999.5,696.2 1003.5,695.5 1007.5,694.3 1011.5,693.2 1015.5,692.2 1019.5,691.3 1023.5,690.7 1027.5,690.5 1031.5,690.6 1035.5,691.0 1039.5,691.8 1043.5,692.7 1047.5,693.4 1051.5,694.0 1055.5,694.4 1059.5,694.3 1063.5,693.6 1067.5,692.4 1071.5,691.0 1075.5,689.6 1079.5,688.5 1083.5,687.5 1087.5,686.7 1091.5,686.0 1095.5,685.9 1099.5,686.2 1103.5,686.9 1107.5,687.8 1111.5,688.5 1115.5,689.0 1119.5,689.0 1123.5,688.6 1127.5,687.8 1131.5,686.6 1135.5,685.6 1139.5,684.5 1143.5,683.3 1147.5,681.9 1151.5,680.2 1155.5,678.3 1159.5,676.2 1163.5,674.3 1167.5,672.2 1171.5,669.7 1175.5,666.7 1179.5,662.9 1183.5,659.1 1187.5,655.1 1191.5,651.5 1195.5,648.2 1199.5,645.1 1203.5,642.2 1207.5,640.0 1211.5,638.9 1215.5,638.7 1219.5,639.2 1223.5,640.3 1227.5,642.0 1231.5,644.4 1235.5,647.3 1239.5,650.4 1243.5,652.9 1247.5,655.1 1251.5,657.3 1255.5,659.5 1259.5,661.5 1263.5,663.1 1267.5,664.5" fill="none" stroke="#ff0000" stroke-width="1" stroke-dasharray="3,3"/>
</g>
<text x="6.8" y="641" font-size="10" fill="#000" color="#000" textLength="149.00" lengthAdjust="spacingAndGlyphs">MACD(12,26,9) 0.003228 0.004557</text>
<text x="1598.6" y="639" font-size="10" fill="#000" color="#000" textLength="38.30" lengthAdjust="spacingAndGlyphs">0.013121</text>
<text x="1598.9" y="687" font-size="10" fill="#000" color="#000" textLength="17.80" lengthAdjust="spacingAndGlyphs">0.00</text>
<text x="1598.8" y="717" font-size="10" fill="#000" color="#000" textLength="39.87" lengthAdjust="spacingAndGlyphs">-0.008933</text>
<rect x="1596" y="630" width="2" height="1" fill="#000"/>
<rect x="1596" y="683" width="2" height="1" fill="#000"/>
<rect x="1596" y="719" width="2" height="1" fill="#000"/>
<rect x="3" y="721" width="1" height="3" fill="#000"/>
<text x="2.4" y="733" font-size="10" fill="#000" color="#000" textLength="50.77" lengthAdjust="spacingAndGlyphs">27 Jun 2019</text>
<rect x="67" y="721" width="1" height="3" fill="#000"/>
<text x="66.4" y="733" font-size="10" fill="#000" color="#000" textLength="47.68" lengthAdjust="spacingAndGlyphs">16 Jul 2019</text>
<rect x="131" y="721" width="1" height="3" fill="#000"/>
<text x="130.4" y="733" font-size="10" fill="#000" color="#000" textLength="46.66" lengthAdjust="spacingAndGlyphs">3 Aug 2019</text>
<rect x="195" y="721" width="1" height="3" fill="#000"/>
<text x="194.4" y="733" font-size="10" fill="#000" color="#000" textLength="51.79" lengthAdjust="spacingAndGlyphs">22 Aug 2019</text>
<rect x="259" y="721" width="1" height="3" fill="#000"/>
<text x="258.4" y="733" font-size="10" fill="#000" color="#000" textLength="52.29" lengthAdjust="spacingAndGlyphs">10 Sep 2019</text>
<rect x="323" y="721" width="1" height="3" fill="#000"/>
<text x="322.4" y="733" font-size="10" fill="#000" color="#000" textLength="52.29" lengthAdjust="spacingAndGlyphs">28 Sep 2019</text>
<rect x="387" y="721" width="1" height="3" fill="#000"/>
<text x="386.4" y="733" font-size="10" fill="#000" color="#000" textLength="50.23" lengthAdjust="spacingAndGlyphs">17 Oct 2019</text>
<rect x="451" y="721" width="1" height="3" fill="#000"/>
<text x="450.4" y="733" font-size="10" fill="#000" color="#000" textLength="47.17" lengthAdjust="spacingAndGlyphs">5 Nov 2019</text>
<rect x="515" y="721" width="1" height="3" fill="#000"/>
<text x="514.4" y="733" font-size="10" fill="#000" color="#000" textLength="52.29" lengthAdjust="spacingAndGlyphs">23 Nov 2019</text>
<rect x="579" y="721" width="1" height="3" fill="#000"/>
<text x="578.4" y="733" font-size="10" fill="#000" color="#000" textLength="52.29" lengthAdjust="spacingAndGlyphs">12 Dec 2019</text>
<rect x="643" y="721" width="1" height="3" fill="#000"/>
<text x="642.4" y="733" font-size="10" fill="#000" color="#000" textLength="52.29" lengthAdjust="spacingAndGlyphs">31 Dec 2019</text>
<rect x="707" y="721" width="1" height="3" fill="#000"/>
<text x="706.4" y="733" font-size="10" fill="#000" color="#000" textLength="50.77" lengthAdjust="spacingAndGlyphs">18 Jan 2020</text>
<rect x="771" y="721" width="1" height="3" fill="#000"/>
<text x="770.4" y="733" font-size="10" fill="#000" color="#000" textLength="46.66" lengthAdjust="spacingAndGlyphs">6 Feb 2020</text>
<rect x="835" y="721" width="1" height="3" fill="#000"/>
<text x="834.4" y="733" font-size="10" fill="#000" color="#000" textLength="51.79" lengthAdjust="spacingAndGlyphs">25 Feb 2020</text>
<rect x="899" y="721" width="1" height="3" fill="#000"/>
<text x="898.4" y="733" font-size="10" fill="#000" color="#000" textLength="51.78" lengthAdjust="spacingAndGlyphs">14 Mar 2020</text>
<rect x="963" y="721" width="1" height="3" fill="#000"/>
<text x="962.4" y="733" font-size="10" fill="#000" color="#000" textLength="44.60" lengthAdjust="spacingAndGlyphs">2 Apr 2020</text>
<rect x="1027" y="721" width="1" height="3" fill="#000"/>
<text x="1026.4" y="733" font-size="10" fill="#000" color="#000" textLength="49.73" lengthAdjust="spacingAndGlyphs">21 Apr 2020</text>
<rect x="1091" y="721" width="1" height="3" fill="#000"/>
<text x="1090.4" y="733" font-size="10" fill="#000" color="#000" textLength="48.19" lengthAdjust="spacingAndGlyphs">9 May 2020</text>
<rect x="1155" y="721" width="1" height="3" fill="#000"/>
<text x="1154.4" y="733" font-size="10" fill="#000" color="#000" textLength="53.32" lengthAdjust="spacingAndGlyphs">28 May 2020</text>
<rect x="1219" y="721" width="1" height="3" fill="#000"/>
<text x="1218.4" y="733" font-size="10" fill="#000" color="#000" textLength="50.77" lengthAdjust="spacingAndGlyphs">16 Jun 2020</text>
<rect x="0" y="741" width="1639" height="1" fill="#e3e3e3"/>
<rect x="0" y="742" width="1639" height="25" fill="#f0f0f0"/>
<rect x="0" y="743" width="1639" height="1" fill="#000"/>
<rect x="4" y="743" width="104" height="19" fill="#000"/><rect x="5" y="742" width="102" height="19" fill="#fff"/>
<rect x="0" y="742" width="1639" height="1" fill="#fbfbfb"/><rect x="108" y="744" width="1531" height="1" fill="#ffffff"/><rect x="3" y="744" width="1" height="18" fill="#ffffff"/>
<rect x="0" y="762" width="1639" height="1" fill="#fafafa"/><rect x="0" y="765" width="1639" height="2" fill="#ebebeb"/><rect x="0" y="767" width="1639" height="1" fill="#a4a4a4"/><rect x="0" y="768" width="1639" height="2" fill="#ffffff"/>
<text x="16.7" y="758" font-size="12" fill="#000" style="stroke:none" textLength="79.3" lengthAdjust="spacingAndGlyphs">EURUSD,Daily</text>
<text x="118.3" y="758" font-size="12" fill="#6d6d6d" style="stroke:none" textLength="78.7" lengthAdjust="spacingAndGlyphs">USDCHF,Daily</text>
<rect x="208" y="747" width="1" height="12" fill="#6d6d6d"/>
<text x="219" y="758" font-size="12" fill="#6d6d6d" style="stroke:none" textLength="82.5" lengthAdjust="spacingAndGlyphs">AUDUSD,Daily</text>
<rect x="312" y="747" width="1" height="12" fill="#6d6d6d"/>
<text x="323.4" y="758" font-size="12" fill="#6d6d6d" style="stroke:none" textLength="80.6" lengthAdjust="spacingAndGlyphs">USDCAD,Daily</text>
<rect x="416" y="747" width="1" height="12" fill="#6d6d6d"/>
<text x="426" y="758" font-size="12" fill="#6d6d6d" style="stroke:none" textLength="83.0" lengthAdjust="spacingAndGlyphs">USDCNH,Daily</text>
<rect x="521" y="747" width="1" height="12" fill="#6d6d6d"/>
<text x="531.5" y="758" font-size="12" fill="#6d6d6d" style="stroke:none" textLength="77.5" lengthAdjust="spacingAndGlyphs">EURUSD,M15</text>
<rect x="620" y="747" width="1" height="12" fill="#6d6d6d"/>
<text x="631.4" y="758" font-size="12" fill="#6d6d6d" style="stroke:none" textLength="77.6" lengthAdjust="spacingAndGlyphs">GBPUSD,M30</text>
<rect x="720" y="747" width="1" height="12" fill="#6d6d6d"/>
<text x="731" y="758" font-size="12" fill="#6d6d6d" style="stroke:none" textLength="81.0" lengthAdjust="spacingAndGlyphs">XAUUSD,Daily</text>
<rect x="824" y="747" width="1" height="12" fill="#6d6d6d"/>
<text x="835.5" y="758" font-size="12" fill="#6d6d6d" style="stroke:none" textLength="48.8" lengthAdjust="spacingAndGlyphs">HK50,H1</text>
<rect x="896" y="747" width="1" height="12" fill="#6d6d6d"/>
<text x="907.2" y="758" font-size="12" fill="#6d6d6d" style="stroke:none" textLength="56.4" lengthAdjust="spacingAndGlyphs">UK100,H1</text>
<rect x="976" y="747" width="1" height="12" fill="#6d6d6d"/>
<text x="987.4" y="758" font-size="12" fill="#6d6d6d" style="stroke:none" textLength="55.9" lengthAdjust="spacingAndGlyphs">UK100,H1</text>
<rect x="1056" y="747" width="1" height="12" fill="#6d6d6d"/>
<text x="1067.4" y="758" font-size="12" fill="#6d6d6d" style="stroke:none" textLength="56.3" lengthAdjust="spacingAndGlyphs">GER30,H1</text>
<rect x="1136" y="747" width="1" height="12" fill="#6d6d6d"/>
<text x="1146" y="758" font-size="12" fill="#6d6d6d" style="stroke:none" textLength="55.0" lengthAdjust="spacingAndGlyphs">FRA40,H1</text>
<rect x="1212" y="747" width="1" height="12" fill="#6d6d6d"/>
<text x="1222.4" y="758" font-size="12" fill="#6d6d6d" style="stroke:none" textLength="50.3" lengthAdjust="spacingAndGlyphs">USOil,H4</text>
<rect x="1284" y="747" width="1" height="12" fill="#6d6d6d"/>
<text x="1294.7" y="758" font-size="12" fill="#6d6d6d" style="stroke:none" textLength="61.9" lengthAdjust="spacingAndGlyphs">USDJPY,H1</text>
<rect x="1368" y="747" width="1" height="12" fill="#6d6d6d"/>
<text x="1379.6" y="758" font-size="12" fill="#6d6d6d" style="stroke:none" textLength="55.9" lengthAdjust="spacingAndGlyphs">DJ30,M15</text>
<rect x="1448" y="747" width="1" height="12" fill="#6d6d6d"/>
<path d="M1614 749v6.5l-3-3.25z" fill="#8a8a8a" shape-rendering="auto"/><path d="M1630 749v6.5l3-3.25z" fill="#8a8a8a" shape-rendering="auto"/>
</svg></body></html>
